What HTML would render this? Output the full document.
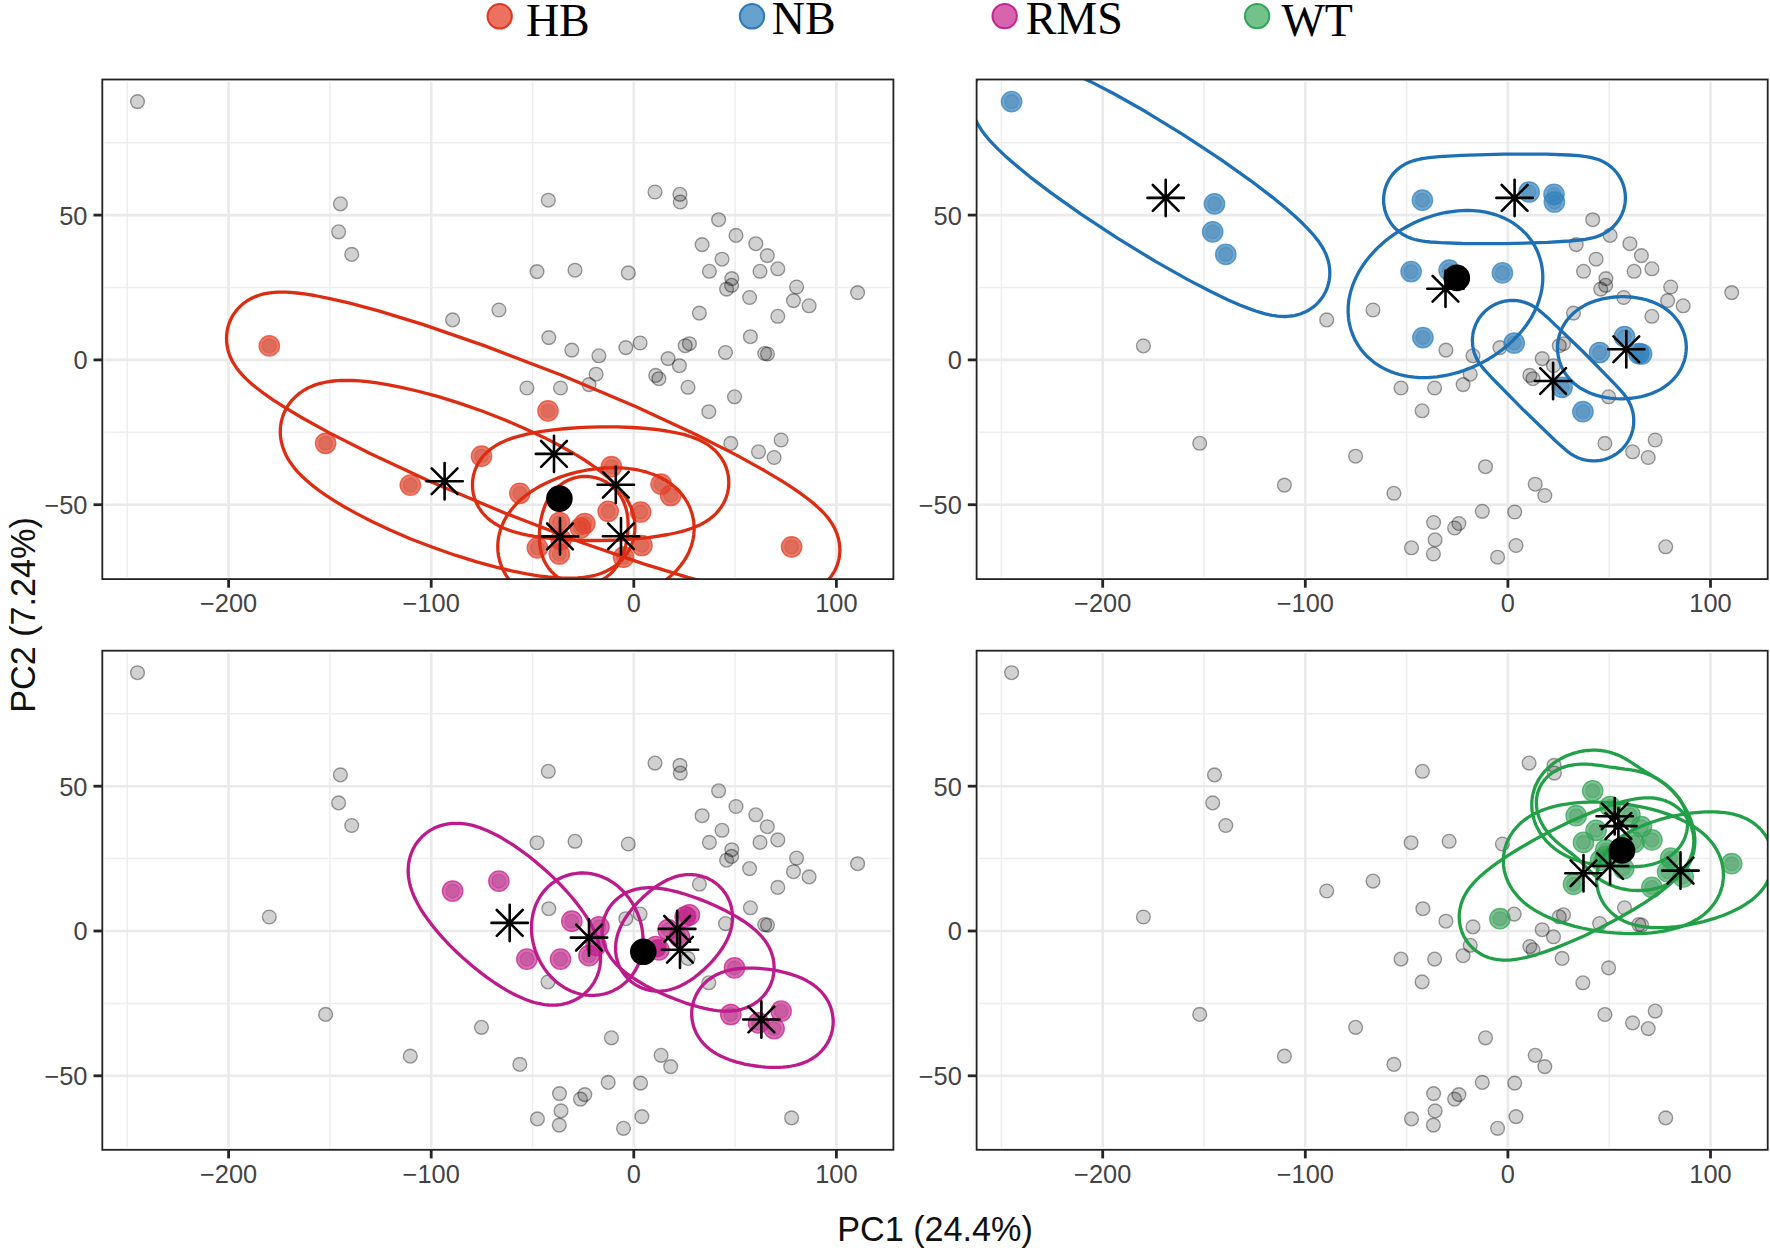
<!DOCTYPE html>
<html lang="en"><head><meta charset="utf-8"><title>PCA</title>
<style>html,body{margin:0;padding:0;background:#fff}body{width:1770px;height:1257px;overflow:hidden}svg{display:block}.tk{font-family:"Liberation Sans",Arial,sans-serif;font-size:25.4px;fill:#434343}.ax{font-family:"Liberation Sans",Arial,sans-serif;font-size:34.2px;fill:#111}.lg{font-family:"Liberation Serif","Times New Roman",serif;font-size:46px;fill:#000}</style></head><body>
<svg width="1770" height="1257" viewBox="0 0 1770 1257">
<rect width="1770" height="1257" fill="#fff"/>
<circle cx="499.7" cy="16.3" r="12.2" fill="#E5402A" fill-opacity="0.74" stroke="#DC2C12" stroke-opacity="0.9" stroke-width="2"/>
<text class="lg" x="525.9" y="35.6">HB</text>
<circle cx="752.0" cy="16.3" r="12.2" fill="#3182BD" fill-opacity="0.74" stroke="#1E70B5" stroke-opacity="0.9" stroke-width="2"/>
<text class="lg" x="771.8" y="33.6">NB</text>
<circle cx="1004.7" cy="16.1" r="12.2" fill="#C51B8A" fill-opacity="0.68" stroke="#BD1A8B" stroke-opacity="0.9" stroke-width="2"/>
<text class="lg" x="1025.7" y="33.5">RMS</text>
<circle cx="1257.1" cy="16.1" r="12.2" fill="#31A354" fill-opacity="0.68" stroke="#22A048" stroke-opacity="0.9" stroke-width="2"/>
<text class="lg" x="1281.4" y="35.6">WT</text>
<g>
<clipPath id="cpHB"><rect x="102.3" y="79.5" width="791.1" height="499.6"/></clipPath>
<line x1="127.3" x2="127.3" y1="81.7" y2="576.9" stroke="#eeeeee" stroke-width="1.5"/>
<line x1="329.9" x2="329.9" y1="81.7" y2="576.9" stroke="#eeeeee" stroke-width="1.5"/>
<line x1="532.5" x2="532.5" y1="81.7" y2="576.9" stroke="#eeeeee" stroke-width="1.5"/>
<line x1="735.1" x2="735.1" y1="81.7" y2="576.9" stroke="#eeeeee" stroke-width="1.5"/>
<line x1="104.5" x2="891.2" y1="142.7" y2="142.7" stroke="#eeeeee" stroke-width="1.5"/>
<line x1="104.5" x2="891.2" y1="287.5" y2="287.5" stroke="#eeeeee" stroke-width="1.5"/>
<line x1="104.5" x2="891.2" y1="432.3" y2="432.3" stroke="#eeeeee" stroke-width="1.5"/>
<line x1="228.6" x2="228.6" y1="81.7" y2="576.9" stroke="#eaeaea" stroke-width="2.6"/>
<line x1="431.2" x2="431.2" y1="81.7" y2="576.9" stroke="#eaeaea" stroke-width="2.6"/>
<line x1="633.8" x2="633.8" y1="81.7" y2="576.9" stroke="#eaeaea" stroke-width="2.6"/>
<line x1="836.4" x2="836.4" y1="81.7" y2="576.9" stroke="#eaeaea" stroke-width="2.6"/>
<line x1="104.5" x2="891.2" y1="215.1" y2="215.1" stroke="#eaeaea" stroke-width="2.6"/>
<line x1="104.5" x2="891.2" y1="359.9" y2="359.9" stroke="#eaeaea" stroke-width="2.6"/>
<line x1="104.5" x2="891.2" y1="504.7" y2="504.7" stroke="#eaeaea" stroke-width="2.6"/>
<g clip-path="url(#cpHB)">
<circle cx="269.3" cy="345.9" r="6.9" fill="#000" fill-opacity="0.18" stroke="#000" stroke-opacity="0.20" stroke-width="1.35"/>
<circle cx="325.6" cy="443.3" r="6.9" fill="#000" fill-opacity="0.18" stroke="#000" stroke-opacity="0.20" stroke-width="1.35"/>
<circle cx="410.3" cy="485.1" r="6.9" fill="#000" fill-opacity="0.18" stroke="#000" stroke-opacity="0.20" stroke-width="1.35"/>
<circle cx="481.5" cy="456.2" r="6.9" fill="#000" fill-opacity="0.18" stroke="#000" stroke-opacity="0.20" stroke-width="1.35"/>
<circle cx="548.0" cy="410.8" r="6.9" fill="#000" fill-opacity="0.18" stroke="#000" stroke-opacity="0.20" stroke-width="1.35"/>
<circle cx="519.8" cy="493.3" r="6.9" fill="#000" fill-opacity="0.18" stroke="#000" stroke-opacity="0.20" stroke-width="1.35"/>
<circle cx="611.4" cy="466.7" r="6.9" fill="#000" fill-opacity="0.18" stroke="#000" stroke-opacity="0.20" stroke-width="1.35"/>
<circle cx="661.1" cy="484.2" r="6.9" fill="#000" fill-opacity="0.18" stroke="#000" stroke-opacity="0.20" stroke-width="1.35"/>
<circle cx="670.7" cy="495.5" r="6.9" fill="#000" fill-opacity="0.18" stroke="#000" stroke-opacity="0.20" stroke-width="1.35"/>
<circle cx="608.2" cy="511.3" r="6.9" fill="#000" fill-opacity="0.18" stroke="#000" stroke-opacity="0.20" stroke-width="1.35"/>
<circle cx="640.6" cy="512.0" r="6.9" fill="#000" fill-opacity="0.18" stroke="#000" stroke-opacity="0.20" stroke-width="1.35"/>
<circle cx="559.5" cy="522.5" r="6.9" fill="#000" fill-opacity="0.18" stroke="#000" stroke-opacity="0.20" stroke-width="1.35"/>
<circle cx="584.8" cy="523.5" r="6.9" fill="#000" fill-opacity="0.18" stroke="#000" stroke-opacity="0.20" stroke-width="1.35"/>
<circle cx="580.5" cy="528.0" r="6.9" fill="#000" fill-opacity="0.18" stroke="#000" stroke-opacity="0.20" stroke-width="1.35"/>
<circle cx="537.4" cy="547.8" r="6.9" fill="#000" fill-opacity="0.18" stroke="#000" stroke-opacity="0.20" stroke-width="1.35"/>
<circle cx="559.3" cy="554.0" r="6.9" fill="#000" fill-opacity="0.18" stroke="#000" stroke-opacity="0.20" stroke-width="1.35"/>
<circle cx="641.9" cy="545.5" r="6.9" fill="#000" fill-opacity="0.18" stroke="#000" stroke-opacity="0.20" stroke-width="1.35"/>
<circle cx="623.5" cy="557.2" r="6.9" fill="#000" fill-opacity="0.18" stroke="#000" stroke-opacity="0.20" stroke-width="1.35"/>
<circle cx="791.6" cy="546.8" r="6.9" fill="#000" fill-opacity="0.18" stroke="#000" stroke-opacity="0.20" stroke-width="1.35"/>
<circle cx="561.0" cy="539.8" r="6.9" fill="#000" fill-opacity="0.18" stroke="#000" stroke-opacity="0.20" stroke-width="1.35"/>
<circle cx="137.5" cy="101.6" r="6.9" fill="#000" fill-opacity="0.18" stroke="#000" stroke-opacity="0.38" stroke-width="1.35"/>
<circle cx="340.4" cy="203.8" r="6.9" fill="#000" fill-opacity="0.18" stroke="#000" stroke-opacity="0.38" stroke-width="1.35"/>
<circle cx="338.6" cy="231.8" r="6.9" fill="#000" fill-opacity="0.18" stroke="#000" stroke-opacity="0.38" stroke-width="1.35"/>
<circle cx="351.7" cy="254.4" r="6.9" fill="#000" fill-opacity="0.18" stroke="#000" stroke-opacity="0.38" stroke-width="1.35"/>
<circle cx="548.3" cy="200.2" r="6.9" fill="#000" fill-opacity="0.18" stroke="#000" stroke-opacity="0.38" stroke-width="1.35"/>
<circle cx="655.0" cy="192.0" r="6.9" fill="#000" fill-opacity="0.18" stroke="#000" stroke-opacity="0.38" stroke-width="1.35"/>
<circle cx="679.9" cy="194.3" r="6.9" fill="#000" fill-opacity="0.18" stroke="#000" stroke-opacity="0.38" stroke-width="1.35"/>
<circle cx="680.3" cy="202.0" r="6.9" fill="#000" fill-opacity="0.18" stroke="#000" stroke-opacity="0.38" stroke-width="1.35"/>
<circle cx="537.0" cy="271.6" r="6.9" fill="#000" fill-opacity="0.18" stroke="#000" stroke-opacity="0.38" stroke-width="1.35"/>
<circle cx="575.0" cy="270.2" r="6.9" fill="#000" fill-opacity="0.18" stroke="#000" stroke-opacity="0.38" stroke-width="1.35"/>
<circle cx="628.3" cy="272.9" r="6.9" fill="#000" fill-opacity="0.18" stroke="#000" stroke-opacity="0.38" stroke-width="1.35"/>
<circle cx="548.8" cy="337.6" r="6.9" fill="#000" fill-opacity="0.18" stroke="#000" stroke-opacity="0.38" stroke-width="1.35"/>
<circle cx="640.1" cy="343.0" r="6.9" fill="#000" fill-opacity="0.18" stroke="#000" stroke-opacity="0.38" stroke-width="1.35"/>
<circle cx="750.4" cy="336.7" r="6.9" fill="#000" fill-opacity="0.18" stroke="#000" stroke-opacity="0.38" stroke-width="1.35"/>
<circle cx="725.5" cy="352.5" r="6.9" fill="#000" fill-opacity="0.18" stroke="#000" stroke-opacity="0.38" stroke-width="1.35"/>
<circle cx="764.7" cy="353.5" r="6.9" fill="#000" fill-opacity="0.18" stroke="#000" stroke-opacity="0.38" stroke-width="1.35"/>
<circle cx="767.5" cy="354.0" r="6.9" fill="#000" fill-opacity="0.18" stroke="#000" stroke-opacity="0.38" stroke-width="1.35"/>
<circle cx="688.0" cy="387.3" r="6.9" fill="#000" fill-opacity="0.18" stroke="#000" stroke-opacity="0.38" stroke-width="1.35"/>
<circle cx="708.8" cy="411.7" r="6.9" fill="#000" fill-opacity="0.18" stroke="#000" stroke-opacity="0.38" stroke-width="1.35"/>
<circle cx="452.6" cy="319.9" r="6.9" fill="#000" fill-opacity="0.18" stroke="#000" stroke-opacity="0.38" stroke-width="1.35"/>
<circle cx="498.9" cy="310.0" r="6.9" fill="#000" fill-opacity="0.18" stroke="#000" stroke-opacity="0.38" stroke-width="1.35"/>
<circle cx="526.9" cy="388.0" r="6.9" fill="#000" fill-opacity="0.18" stroke="#000" stroke-opacity="0.38" stroke-width="1.35"/>
<circle cx="560.5" cy="388.0" r="6.9" fill="#000" fill-opacity="0.18" stroke="#000" stroke-opacity="0.38" stroke-width="1.35"/>
<circle cx="571.8" cy="350.1" r="6.9" fill="#000" fill-opacity="0.18" stroke="#000" stroke-opacity="0.38" stroke-width="1.35"/>
<circle cx="598.9" cy="355.8" r="6.9" fill="#000" fill-opacity="0.18" stroke="#000" stroke-opacity="0.38" stroke-width="1.35"/>
<circle cx="589.0" cy="384.6" r="6.9" fill="#000" fill-opacity="0.18" stroke="#000" stroke-opacity="0.38" stroke-width="1.35"/>
<circle cx="596.1" cy="374.2" r="6.9" fill="#000" fill-opacity="0.18" stroke="#000" stroke-opacity="0.38" stroke-width="1.35"/>
<circle cx="689.4" cy="343.7" r="6.9" fill="#000" fill-opacity="0.18" stroke="#000" stroke-opacity="0.38" stroke-width="1.35"/>
<circle cx="685.2" cy="345.7" r="6.9" fill="#000" fill-opacity="0.18" stroke="#000" stroke-opacity="0.38" stroke-width="1.35"/>
<circle cx="668.1" cy="358.6" r="6.9" fill="#000" fill-opacity="0.18" stroke="#000" stroke-opacity="0.38" stroke-width="1.35"/>
<circle cx="679.4" cy="365.7" r="6.9" fill="#000" fill-opacity="0.18" stroke="#000" stroke-opacity="0.38" stroke-width="1.35"/>
<circle cx="658.9" cy="378.7" r="6.9" fill="#000" fill-opacity="0.18" stroke="#000" stroke-opacity="0.38" stroke-width="1.35"/>
<circle cx="655.7" cy="375.4" r="6.9" fill="#000" fill-opacity="0.18" stroke="#000" stroke-opacity="0.38" stroke-width="1.35"/>
<circle cx="734.5" cy="396.8" r="6.9" fill="#000" fill-opacity="0.18" stroke="#000" stroke-opacity="0.38" stroke-width="1.35"/>
<circle cx="730.8" cy="443.4" r="6.9" fill="#000" fill-opacity="0.18" stroke="#000" stroke-opacity="0.38" stroke-width="1.35"/>
<circle cx="781.1" cy="440.0" r="6.9" fill="#000" fill-opacity="0.18" stroke="#000" stroke-opacity="0.38" stroke-width="1.35"/>
<circle cx="774.1" cy="457.5" r="6.9" fill="#000" fill-opacity="0.18" stroke="#000" stroke-opacity="0.38" stroke-width="1.35"/>
<circle cx="758.5" cy="451.8" r="6.9" fill="#000" fill-opacity="0.18" stroke="#000" stroke-opacity="0.38" stroke-width="1.35"/>
<circle cx="718.6" cy="219.7" r="6.9" fill="#000" fill-opacity="0.18" stroke="#000" stroke-opacity="0.38" stroke-width="1.35"/>
<circle cx="736.0" cy="235.4" r="6.9" fill="#000" fill-opacity="0.18" stroke="#000" stroke-opacity="0.38" stroke-width="1.35"/>
<circle cx="702.1" cy="244.6" r="6.9" fill="#000" fill-opacity="0.18" stroke="#000" stroke-opacity="0.38" stroke-width="1.35"/>
<circle cx="755.8" cy="243.7" r="6.9" fill="#000" fill-opacity="0.18" stroke="#000" stroke-opacity="0.38" stroke-width="1.35"/>
<circle cx="722.0" cy="259.2" r="6.9" fill="#000" fill-opacity="0.18" stroke="#000" stroke-opacity="0.38" stroke-width="1.35"/>
<circle cx="767.3" cy="255.6" r="6.9" fill="#000" fill-opacity="0.18" stroke="#000" stroke-opacity="0.38" stroke-width="1.35"/>
<circle cx="709.4" cy="271.3" r="6.9" fill="#000" fill-opacity="0.18" stroke="#000" stroke-opacity="0.38" stroke-width="1.35"/>
<circle cx="777.8" cy="268.8" r="6.9" fill="#000" fill-opacity="0.18" stroke="#000" stroke-opacity="0.38" stroke-width="1.35"/>
<circle cx="760.0" cy="271.3" r="6.9" fill="#000" fill-opacity="0.18" stroke="#000" stroke-opacity="0.38" stroke-width="1.35"/>
<circle cx="731.8" cy="278.6" r="6.9" fill="#000" fill-opacity="0.18" stroke="#000" stroke-opacity="0.38" stroke-width="1.35"/>
<circle cx="731.6" cy="285.3" r="6.9" fill="#000" fill-opacity="0.18" stroke="#000" stroke-opacity="0.38" stroke-width="1.35"/>
<circle cx="726.6" cy="289.1" r="6.9" fill="#000" fill-opacity="0.18" stroke="#000" stroke-opacity="0.38" stroke-width="1.35"/>
<circle cx="796.6" cy="287.0" r="6.9" fill="#000" fill-opacity="0.18" stroke="#000" stroke-opacity="0.38" stroke-width="1.35"/>
<circle cx="749.6" cy="297.5" r="6.9" fill="#000" fill-opacity="0.18" stroke="#000" stroke-opacity="0.38" stroke-width="1.35"/>
<circle cx="793.5" cy="300.6" r="6.9" fill="#000" fill-opacity="0.18" stroke="#000" stroke-opacity="0.38" stroke-width="1.35"/>
<circle cx="809.1" cy="305.8" r="6.9" fill="#000" fill-opacity="0.18" stroke="#000" stroke-opacity="0.38" stroke-width="1.35"/>
<circle cx="857.6" cy="292.6" r="6.9" fill="#000" fill-opacity="0.18" stroke="#000" stroke-opacity="0.38" stroke-width="1.35"/>
<circle cx="699.4" cy="313.1" r="6.9" fill="#000" fill-opacity="0.18" stroke="#000" stroke-opacity="0.38" stroke-width="1.35"/>
<circle cx="777.8" cy="316.3" r="6.9" fill="#000" fill-opacity="0.18" stroke="#000" stroke-opacity="0.38" stroke-width="1.35"/>
<circle cx="625.8" cy="347.6" r="6.9" fill="#000" fill-opacity="0.18" stroke="#000" stroke-opacity="0.38" stroke-width="1.35"/>
<circle cx="269.3" cy="345.9" r="10.2" fill="#E5402A" fill-opacity="0.70" stroke="#E5402A" stroke-opacity="0.75" stroke-width="1.3"/>
<circle cx="325.6" cy="443.3" r="10.2" fill="#E5402A" fill-opacity="0.70" stroke="#E5402A" stroke-opacity="0.75" stroke-width="1.3"/>
<circle cx="410.3" cy="485.1" r="10.2" fill="#E5402A" fill-opacity="0.70" stroke="#E5402A" stroke-opacity="0.75" stroke-width="1.3"/>
<circle cx="481.5" cy="456.2" r="10.2" fill="#E5402A" fill-opacity="0.70" stroke="#E5402A" stroke-opacity="0.75" stroke-width="1.3"/>
<circle cx="548.0" cy="410.8" r="10.2" fill="#E5402A" fill-opacity="0.70" stroke="#E5402A" stroke-opacity="0.75" stroke-width="1.3"/>
<circle cx="519.8" cy="493.3" r="10.2" fill="#E5402A" fill-opacity="0.70" stroke="#E5402A" stroke-opacity="0.75" stroke-width="1.3"/>
<circle cx="611.4" cy="466.7" r="10.2" fill="#E5402A" fill-opacity="0.70" stroke="#E5402A" stroke-opacity="0.75" stroke-width="1.3"/>
<circle cx="661.1" cy="484.2" r="10.2" fill="#E5402A" fill-opacity="0.70" stroke="#E5402A" stroke-opacity="0.75" stroke-width="1.3"/>
<circle cx="670.7" cy="495.5" r="10.2" fill="#E5402A" fill-opacity="0.70" stroke="#E5402A" stroke-opacity="0.75" stroke-width="1.3"/>
<circle cx="608.2" cy="511.3" r="10.2" fill="#E5402A" fill-opacity="0.70" stroke="#E5402A" stroke-opacity="0.75" stroke-width="1.3"/>
<circle cx="640.6" cy="512.0" r="10.2" fill="#E5402A" fill-opacity="0.70" stroke="#E5402A" stroke-opacity="0.75" stroke-width="1.3"/>
<circle cx="559.5" cy="522.5" r="10.2" fill="#E5402A" fill-opacity="0.70" stroke="#E5402A" stroke-opacity="0.75" stroke-width="1.3"/>
<circle cx="584.8" cy="523.5" r="10.2" fill="#E5402A" fill-opacity="0.70" stroke="#E5402A" stroke-opacity="0.75" stroke-width="1.3"/>
<circle cx="580.5" cy="528.0" r="10.2" fill="#E5402A" fill-opacity="0.70" stroke="#E5402A" stroke-opacity="0.75" stroke-width="1.3"/>
<circle cx="537.4" cy="547.8" r="10.2" fill="#E5402A" fill-opacity="0.70" stroke="#E5402A" stroke-opacity="0.75" stroke-width="1.3"/>
<circle cx="559.3" cy="554.0" r="10.2" fill="#E5402A" fill-opacity="0.70" stroke="#E5402A" stroke-opacity="0.75" stroke-width="1.3"/>
<circle cx="641.9" cy="545.5" r="10.2" fill="#E5402A" fill-opacity="0.70" stroke="#E5402A" stroke-opacity="0.75" stroke-width="1.3"/>
<circle cx="623.5" cy="557.2" r="10.2" fill="#E5402A" fill-opacity="0.70" stroke="#E5402A" stroke-opacity="0.75" stroke-width="1.3"/>
<circle cx="791.6" cy="546.8" r="10.2" fill="#E5402A" fill-opacity="0.70" stroke="#E5402A" stroke-opacity="0.75" stroke-width="1.3"/>
<circle cx="561.0" cy="539.8" r="10.2" fill="#E5402A" fill-opacity="0.70" stroke="#E5402A" stroke-opacity="0.75" stroke-width="1.3"/>
<path d="M836.6 566.5 L836.0 567.9 L835.4 569.3 L834.7 570.7 L833.9 572.1 L833.1 573.4 L832.3 574.7 L831.4 576.0 L830.5 577.2 L829.5 578.4 L828.5 579.6 L827.4 580.8 L826.3 581.9 L825.1 583.0 L823.9 584.0 L822.7 585.0 L821.4 586.0 L820.0 586.9 L818.6 587.8 L817.2 588.7 L815.7 589.5 L814.2 590.3 L812.6 591.1 L810.9 591.8 L809.2 592.4 L807.4 593.0 L805.5 593.6 L803.6 594.1 L801.5 594.6 L799.3 595.1 L796.9 595.4 L794.3 595.8 L791.5 596.0 L788.4 596.2 L784.8 596.2 L780.7 596.2 L775.8 595.9 L769.7 595.4 L762.0 594.4 L751.8 592.8 L737.7 590.1 L717.6 585.4 L687.8 577.4 L643.6 563.9 L581.4 542.5 L505.3 513.3 L430.2 481.5 L370.6 453.8 L329.4 432.9 L302.4 418.0 L284.7 407.4 L272.6 399.6 L264.2 393.7 L258.0 389.0 L253.2 385.2 L249.5 382.0 L246.4 379.1 L243.9 376.6 L241.8 374.3 L239.9 372.2 L238.3 370.2 L236.8 368.3 L235.6 366.4 L234.4 364.6 L233.3 362.9 L232.4 361.2 L231.5 359.5 L230.8 357.8 L230.0 356.2 L229.4 354.5 L228.9 352.9 L228.4 351.3 L227.9 349.7 L227.5 348.0 L227.2 346.4 L227.0 344.8 L226.8 343.2 L226.6 341.6 L226.6 340.1 L226.5 338.5 L226.6 336.9 L226.6 335.3 L226.8 333.8 L227.0 332.2 L227.2 330.7 L227.5 329.2 L227.8 327.7 L228.2 326.2 L228.7 324.7 L229.2 323.2 L229.7 321.8 L230.3 320.4 L231.0 319.0 L231.7 317.6 L232.4 316.3 L233.2 314.9 L234.1 313.6 L235.0 312.4 L235.9 311.1 L236.9 309.9 L237.9 308.7 L239.0 307.6 L240.1 306.5 L241.3 305.4 L242.5 304.3 L243.7 303.3 L245.0 302.3 L246.4 301.4 L247.7 300.5 L249.2 299.6 L250.7 298.8 L252.2 298.0 L253.8 297.3 L255.5 296.6 L257.2 295.9 L259.0 295.3 L260.8 294.7 L262.8 294.2 L264.9 293.7 L267.1 293.3 L269.5 292.9 L272.0 292.6 L274.8 292.3 L278.0 292.2 L281.5 292.1 L285.7 292.2 L290.6 292.4 L296.7 293.0 L304.4 293.9 L314.6 295.5 L328.7 298.3 L348.8 302.9 L378.6 310.9 L422.7 324.4 L484.9 345.9 L561.1 375.0 L636.1 406.8 L695.8 434.5 L737.0 455.4 L764.0 470.3 L781.7 480.9 L793.7 488.7 L802.2 494.6 L808.4 499.3 L813.2 503.1 L816.9 506.4 L819.9 509.2 L822.5 511.7 L824.6 514.0 L826.5 516.1 L828.1 518.1 L829.5 520.0 L830.8 521.9 L832.0 523.7 L833.0 525.4 L834.0 527.1 L834.8 528.8 L835.6 530.5 L836.3 532.1 L837.0 533.8 L837.5 535.4 L838.0 537.0 L838.5 538.7 L838.8 540.3 L839.1 541.9 L839.4 543.5 L839.6 545.1 L839.7 546.7 L839.8 548.3 L839.9 549.9 L839.8 551.4 L839.7 553.0 L839.6 554.5 L839.4 556.1 L839.2 557.6 L838.9 559.1 L838.5 560.7 L838.1 562.1 L837.7 563.6 L837.2 565.1Z" fill="none" stroke="#DC2C12" stroke-width="3.3" stroke-linejoin="round"/>
<path d="M632.0 543.6 L631.4 545.1 L630.8 546.6 L630.1 548.1 L629.3 549.6 L628.5 551.0 L627.6 552.5 L626.7 553.8 L625.8 555.2 L624.7 556.6 L623.7 557.9 L622.5 559.1 L621.4 560.4 L620.1 561.6 L618.9 562.8 L617.5 564.0 L616.1 565.1 L614.7 566.2 L613.2 567.2 L611.6 568.2 L610.0 569.2 L608.2 570.1 L606.5 571.0 L604.6 571.9 L602.6 572.7 L600.6 573.5 L598.4 574.3 L596.1 575.0 L593.6 575.6 L590.9 576.2 L588.1 576.7 L584.9 577.2 L581.5 577.6 L577.6 578.0 L573.3 578.2 L568.4 578.2 L562.6 578.1 L555.9 577.7 L547.9 577.0 L538.3 575.8 L526.7 573.9 L512.7 571.1 L496.1 567.2 L476.7 561.9 L455.2 555.2 L432.6 547.3 L410.2 538.7 L389.5 529.8 L371.4 521.3 L356.2 513.4 L343.7 506.5 L333.7 500.4 L325.6 495.1 L319.0 490.5 L313.6 486.4 L309.2 482.8 L305.5 479.5 L302.3 476.5 L299.6 473.8 L297.2 471.3 L295.1 468.9 L293.3 466.6 L291.7 464.4 L290.2 462.3 L288.9 460.3 L287.7 458.3 L286.7 456.4 L285.7 454.5 L284.9 452.6 L284.1 450.7 L283.4 448.9 L282.8 447.1 L282.2 445.3 L281.8 443.5 L281.4 441.8 L281.0 440.0 L280.8 438.3 L280.5 436.5 L280.4 434.8 L280.3 433.1 L280.3 431.4 L280.3 429.7 L280.4 428.0 L280.6 426.4 L280.8 424.7 L281.1 423.1 L281.4 421.4 L281.8 419.8 L282.2 418.2 L282.7 416.7 L283.2 415.1 L283.8 413.6 L284.5 412.0 L285.2 410.5 L285.9 409.1 L286.7 407.6 L287.6 406.2 L288.5 404.8 L289.5 403.4 L290.5 402.1 L291.6 400.8 L292.7 399.5 L293.9 398.3 L295.1 397.0 L296.4 395.9 L297.7 394.7 L299.1 393.6 L300.6 392.5 L302.1 391.5 L303.6 390.4 L305.3 389.5 L307.0 388.5 L308.8 387.6 L310.7 386.8 L312.6 385.9 L314.7 385.1 L316.9 384.4 L319.2 383.7 L321.7 383.1 L324.3 382.5 L327.2 381.9 L330.3 381.4 L333.8 381.0 L337.6 380.7 L341.9 380.5 L346.9 380.4 L352.6 380.5 L359.4 380.9 L367.4 381.7 L377.0 382.9 L388.6 384.8 L402.5 387.6 L419.2 391.5 L438.5 396.7 L460.0 403.4 L482.7 411.3 L505.0 420.0 L525.7 428.9 L543.9 437.4 L559.1 445.2 L571.5 452.2 L581.6 458.2 L589.7 463.5 L596.2 468.2 L601.6 472.3 L606.1 475.9 L609.8 479.1 L612.9 482.1 L615.7 484.9 L618.0 487.4 L620.1 489.8 L621.9 492.1 L623.6 494.3 L625.0 496.4 L626.3 498.4 L627.5 500.4 L628.6 502.3 L629.5 504.2 L630.4 506.1 L631.2 507.9 L631.9 509.7 L632.5 511.6 L633.0 513.3 L633.5 515.1 L633.9 516.9 L634.2 518.6 L634.5 520.4 L634.7 522.1 L634.8 523.8 L634.9 525.6 L634.9 527.3 L634.9 529.0 L634.8 530.6 L634.7 532.3 L634.4 534.0 L634.2 535.6 L633.9 537.2 L633.5 538.8 L633.0 540.4 L632.6 542.0Z" fill="none" stroke="#DC2C12" stroke-width="3.3" stroke-linejoin="round"/>
<path d="M728.8 481.9 L728.8 483.4 L728.7 484.9 L728.6 486.4 L728.5 487.9 L728.2 489.4 L728.0 490.9 L727.7 492.4 L727.3 493.8 L726.9 495.3 L726.4 496.7 L725.9 498.2 L725.3 499.6 L724.6 501.0 L724.0 502.4 L723.2 503.8 L722.4 505.1 L721.6 506.5 L720.7 507.8 L719.7 509.1 L718.7 510.4 L717.7 511.6 L716.6 512.9 L715.4 514.1 L714.1 515.3 L712.8 516.5 L711.4 517.6 L709.9 518.8 L708.4 519.9 L706.7 521.0 L704.9 522.1 L703.0 523.2 L700.9 524.4 L698.5 525.5 L696.0 526.6 L693.0 527.8 L689.7 529.0 L685.7 530.3 L681.0 531.6 L675.3 533.0 L668.1 534.5 L659.2 536.0 L648.1 537.6 L634.5 538.9 L618.7 540.0 L601.4 540.5 L584.2 540.5 L568.3 539.9 L554.7 538.9 L543.6 537.7 L534.6 536.4 L527.4 535.1 L521.7 533.9 L516.9 532.7 L512.9 531.5 L509.5 530.4 L506.6 529.3 L503.9 528.3 L501.6 527.2 L499.5 526.2 L497.5 525.1 L495.7 524.0 L494.0 523.0 L492.4 521.9 L490.9 520.8 L489.4 519.7 L488.1 518.5 L486.8 517.4 L485.6 516.2 L484.4 515.0 L483.3 513.7 L482.3 512.5 L481.3 511.2 L480.4 509.9 L479.5 508.6 L478.7 507.3 L477.9 505.9 L477.2 504.6 L476.5 503.2 L475.9 501.8 L475.3 500.3 L474.8 498.9 L474.3 497.4 L473.9 496.0 L473.5 494.5 L473.2 493.0 L473.0 491.5 L472.8 490.0 L472.6 488.5 L472.5 487.0 L472.5 485.5 L472.5 484.0 L472.5 482.5 L472.6 481.0 L472.8 479.5 L473.0 478.0 L473.3 476.5 L473.6 475.0 L474.0 473.6 L474.4 472.1 L474.9 470.6 L475.4 469.2 L476.0 467.8 L476.6 466.4 L477.3 465.0 L478.0 463.6 L478.8 462.2 L479.7 460.9 L480.6 459.6 L481.5 458.3 L482.5 457.0 L483.6 455.7 L484.7 454.5 L485.9 453.3 L487.1 452.1 L488.5 450.9 L489.8 449.8 L491.3 448.6 L492.9 447.5 L494.6 446.4 L496.4 445.2 L498.3 444.1 L500.4 443.0 L502.7 441.9 L505.3 440.8 L508.2 439.6 L511.6 438.4 L515.5 437.1 L520.3 435.8 L526.0 434.4 L533.1 432.9 L542.0 431.3 L553.2 429.8 L566.7 428.5 L582.6 427.4 L599.8 426.9 L617.1 426.9 L632.9 427.5 L646.5 428.5 L657.7 429.7 L666.6 431.0 L673.8 432.3 L679.6 433.5 L684.4 434.7 L688.3 435.9 L691.7 437.0 L694.7 438.1 L697.3 439.1 L699.7 440.2 L701.8 441.2 L703.8 442.3 L705.6 443.3 L707.3 444.4 L708.9 445.5 L710.4 446.6 L711.8 447.7 L713.2 448.9 L714.5 450.0 L715.7 451.2 L716.8 452.4 L717.9 453.6 L719.0 454.9 L720.0 456.2 L720.9 457.4 L721.8 458.8 L722.6 460.1 L723.4 461.5 L724.1 462.8 L724.8 464.2 L725.4 465.6 L726.0 467.0 L726.5 468.5 L726.9 469.9 L727.4 471.4 L727.7 472.9 L728.0 474.4 L728.3 475.8 L728.5 477.3 L728.6 478.8 L728.7 480.3Z" fill="none" stroke="#DC2C12" stroke-width="3.3" stroke-linejoin="round"/>
<path d="M693.0 517.9 L693.4 519.7 L693.7 521.6 L693.9 523.4 L694.0 525.3 L694.1 527.2 L694.1 529.0 L694.1 530.9 L693.9 532.8 L693.8 534.7 L693.5 536.6 L693.2 538.5 L692.8 540.5 L692.3 542.4 L691.8 544.3 L691.2 546.2 L690.5 548.2 L689.7 550.1 L688.9 552.1 L688.0 554.0 L687.0 556.0 L685.8 557.9 L684.6 559.9 L683.3 561.9 L681.9 563.8 L680.4 565.8 L678.7 567.8 L677.0 569.9 L675.0 571.9 L673.0 573.9 L670.7 576.0 L668.3 578.0 L665.7 580.1 L662.9 582.2 L659.8 584.3 L656.5 586.4 L653.0 588.5 L649.1 590.6 L645.0 592.6 L640.7 594.6 L636.0 596.5 L631.1 598.4 L626.0 600.1 L620.6 601.7 L615.1 603.1 L609.5 604.4 L603.9 605.4 L598.3 606.2 L592.7 606.9 L587.3 607.3 L582.1 607.5 L577.1 607.6 L572.3 607.4 L567.7 607.2 L563.4 606.8 L559.3 606.2 L555.4 605.6 L551.8 604.8 L548.4 604.0 L545.2 603.1 L542.1 602.2 L539.2 601.2 L536.5 600.1 L534.0 599.0 L531.5 597.8 L529.2 596.6 L527.1 595.4 L525.0 594.1 L523.0 592.8 L521.1 591.5 L519.3 590.1 L517.6 588.7 L516.0 587.3 L514.5 585.8 L513.0 584.3 L511.6 582.8 L510.3 581.3 L509.1 579.7 L507.9 578.1 L506.8 576.5 L505.8 574.9 L504.8 573.2 L503.9 571.5 L503.0 569.8 L502.2 568.1 L501.5 566.4 L500.9 564.6 L500.3 562.8 L499.7 561.1 L499.3 559.2 L498.9 557.4 L498.5 555.6 L498.2 553.8 L498.0 551.9 L497.9 550.0 L497.8 548.2 L497.8 546.3 L497.8 544.4 L498.0 542.5 L498.1 540.6 L498.4 538.7 L498.7 536.8 L499.1 534.9 L499.6 532.9 L500.1 531.0 L500.7 529.1 L501.4 527.1 L502.2 525.2 L503.0 523.3 L503.9 521.3 L504.9 519.4 L506.1 517.4 L507.3 515.4 L508.6 513.5 L510.0 511.5 L511.5 509.5 L513.2 507.5 L514.9 505.5 L516.9 503.4 L518.9 501.4 L521.2 499.3 L523.6 497.3 L526.2 495.2 L529.0 493.1 L532.1 491.0 L535.4 488.9 L538.9 486.8 L542.8 484.7 L546.9 482.7 L551.2 480.7 L555.9 478.8 L560.8 476.9 L565.9 475.2 L571.3 473.6 L576.8 472.2 L582.4 471.0 L588.0 469.9 L593.6 469.1 L599.2 468.5 L604.6 468.0 L609.8 467.8 L614.8 467.7 L619.6 467.9 L624.2 468.2 L628.5 468.6 L632.6 469.1 L636.5 469.7 L640.1 470.5 L643.5 471.3 L646.7 472.2 L649.8 473.2 L652.7 474.2 L655.4 475.2 L657.9 476.3 L660.4 477.5 L662.7 478.7 L664.8 479.9 L666.9 481.2 L668.9 482.5 L670.8 483.9 L672.6 485.2 L674.3 486.6 L675.9 488.1 L677.4 489.5 L678.9 491.0 L680.3 492.5 L681.6 494.0 L682.8 495.6 L684.0 497.2 L685.1 498.8 L686.1 500.5 L687.1 502.1 L688.0 503.8 L688.9 505.5 L689.7 507.2 L690.4 509.0 L691.0 510.7 L691.6 512.5 L692.2 514.3 L692.6 516.1Z" fill="none" stroke="#DC2C12" stroke-width="3.3" stroke-linejoin="round"/>
<path d="M576.7 584.7 L575.3 584.5 L573.9 584.2 L572.5 583.9 L571.1 583.6 L569.7 583.2 L568.3 582.7 L567.0 582.2 L565.6 581.6 L564.3 581.1 L563.0 580.4 L561.8 579.7 L560.5 579.0 L559.3 578.2 L558.1 577.4 L556.9 576.5 L555.8 575.6 L554.7 574.7 L553.6 573.7 L552.6 572.7 L551.5 571.6 L550.6 570.5 L549.6 569.4 L548.7 568.2 L547.8 566.9 L547.0 565.7 L546.2 564.4 L545.4 563.0 L544.7 561.7 L544.0 560.2 L543.4 558.8 L542.8 557.2 L542.2 555.6 L541.7 554.0 L541.2 552.3 L540.8 550.5 L540.4 548.6 L540.1 546.6 L539.8 544.5 L539.6 542.2 L539.4 539.8 L539.3 537.1 L539.4 534.3 L539.5 531.3 L539.7 528.2 L540.1 525.1 L540.5 521.9 L541.1 518.8 L541.8 515.9 L542.5 513.2 L543.2 510.7 L544.0 508.4 L544.8 506.2 L545.6 504.2 L546.4 502.4 L547.3 500.7 L548.2 499.0 L549.1 497.5 L550.0 496.1 L550.9 494.7 L551.9 493.4 L552.9 492.1 L553.9 490.9 L555.0 489.7 L556.1 488.6 L557.2 487.6 L558.3 486.6 L559.5 485.6 L560.6 484.7 L561.8 483.8 L563.1 483.0 L564.3 482.2 L565.6 481.5 L566.9 480.8 L568.2 480.2 L569.6 479.6 L570.9 479.1 L572.3 478.6 L573.7 478.2 L575.0 477.8 L576.4 477.5 L577.9 477.2 L579.3 476.9 L580.7 476.7 L582.1 476.6 L583.6 476.5 L585.0 476.5 L586.4 476.5 L587.9 476.5 L589.3 476.6 L590.7 476.8 L592.2 477.0 L593.6 477.3 L595.0 477.6 L596.4 477.9 L597.7 478.3 L599.1 478.8 L600.4 479.3 L601.8 479.9 L603.1 480.4 L604.4 481.1 L605.6 481.8 L606.9 482.5 L608.1 483.3 L609.3 484.1 L610.5 485.0 L611.6 485.9 L612.7 486.8 L613.8 487.8 L614.9 488.8 L615.9 489.9 L616.9 491.0 L617.8 492.1 L618.7 493.3 L619.6 494.6 L620.4 495.8 L621.2 497.1 L622.0 498.5 L622.7 499.8 L623.4 501.3 L624.0 502.7 L624.6 504.3 L625.2 505.9 L625.7 507.5 L626.2 509.2 L626.6 511.0 L627.0 512.9 L627.4 514.9 L627.6 517.0 L627.9 519.3 L628.0 521.7 L628.1 524.4 L628.1 527.2 L627.9 530.2 L627.7 533.3 L627.3 536.4 L626.9 539.6 L626.3 542.7 L625.7 545.6 L625.0 548.3 L624.2 550.8 L623.5 553.1 L622.7 555.3 L621.8 557.3 L621.0 559.1 L620.1 560.8 L619.3 562.5 L618.4 564.0 L617.4 565.4 L616.5 566.8 L615.5 568.1 L614.5 569.4 L613.5 570.6 L612.4 571.8 L611.4 572.9 L610.3 573.9 L609.1 574.9 L608.0 575.9 L606.8 576.8 L605.6 577.7 L604.3 578.5 L603.1 579.3 L601.8 580.0 L600.5 580.7 L599.2 581.3 L597.9 581.9 L596.5 582.4 L595.1 582.9 L593.8 583.3 L592.4 583.7 L591.0 584.0 L589.6 584.3 L588.1 584.6 L586.7 584.8 L585.3 584.9 L583.8 585.0 L582.4 585.0 L581.0 585.0 L579.5 585.0 L578.1 584.9Z" fill="none" stroke="#DC2C12" stroke-width="3.3" stroke-linejoin="round"/>
<path d="M426.4 481.2H462.8M444.6 463.0V499.4M431.7 468.3L457.5 494.1M431.7 494.1L457.5 468.3" stroke="#000" stroke-width="2.6" stroke-linecap="round" fill="none"/>
<path d="M535.8 453.9H572.2M554.0 435.7V472.1M541.1 441.0L566.9 466.8M541.1 466.8L566.9 441.0" stroke="#000" stroke-width="2.6" stroke-linecap="round" fill="none"/>
<path d="M597.6 484.7H634.0M615.8 466.5V502.9M602.9 471.8L628.7 497.6M602.9 497.6L628.7 471.8" stroke="#000" stroke-width="2.6" stroke-linecap="round" fill="none"/>
<path d="M541.8 536.4H578.2M560.0 518.2V554.6M547.1 523.5L572.9 549.3M547.1 549.3L572.9 523.5" stroke="#000" stroke-width="2.6" stroke-linecap="round" fill="none"/>
<path d="M602.8 536.3H639.2M621.0 518.1V554.5M608.1 523.4L633.9 549.2M608.1 549.2L633.9 523.4" stroke="#000" stroke-width="2.6" stroke-linecap="round" fill="none"/>
<circle cx="559.4" cy="498.6" r="13.3" fill="#000"/>
</g>
<rect x="102.3" y="79.5" width="791.1" height="499.6" fill="none" stroke="#222" stroke-width="1.8"/>
<line x1="228.6" x2="228.6" y1="579.1" y2="587.7" stroke="#262626" stroke-width="2.8"/>
<text class="tk" text-anchor="middle" x="228.6" y="612.2">−200</text>
<line x1="431.2" x2="431.2" y1="579.1" y2="587.7" stroke="#262626" stroke-width="2.8"/>
<text class="tk" text-anchor="middle" x="431.2" y="612.2">−100</text>
<line x1="633.8" x2="633.8" y1="579.1" y2="587.7" stroke="#262626" stroke-width="2.8"/>
<text class="tk" text-anchor="middle" x="633.8" y="612.2">0</text>
<line x1="836.4" x2="836.4" y1="579.1" y2="587.7" stroke="#262626" stroke-width="2.8"/>
<text class="tk" text-anchor="middle" x="836.4" y="612.2">100</text>
<line x1="93.5" x2="102.3" y1="215.1" y2="215.1" stroke="#262626" stroke-width="2.8"/>
<text class="tk" text-anchor="end" x="87.5" y="224.5">50</text>
<line x1="93.5" x2="102.3" y1="359.9" y2="359.9" stroke="#262626" stroke-width="2.8"/>
<text class="tk" text-anchor="end" x="87.5" y="369.3">0</text>
<line x1="93.5" x2="102.3" y1="504.7" y2="504.7" stroke="#262626" stroke-width="2.8"/>
<text class="tk" text-anchor="end" x="87.5" y="514.1">−50</text>
</g>
<g>
<clipPath id="cpNB"><rect x="976.6" y="79.5" width="791.1" height="499.6"/></clipPath>
<line x1="1001.4" x2="1001.4" y1="81.7" y2="576.9" stroke="#eeeeee" stroke-width="1.5"/>
<line x1="1204.0" x2="1204.0" y1="81.7" y2="576.9" stroke="#eeeeee" stroke-width="1.5"/>
<line x1="1406.6" x2="1406.6" y1="81.7" y2="576.9" stroke="#eeeeee" stroke-width="1.5"/>
<line x1="1609.2" x2="1609.2" y1="81.7" y2="576.9" stroke="#eeeeee" stroke-width="1.5"/>
<line x1="978.8" x2="1765.5" y1="142.7" y2="142.7" stroke="#eeeeee" stroke-width="1.5"/>
<line x1="978.8" x2="1765.5" y1="287.5" y2="287.5" stroke="#eeeeee" stroke-width="1.5"/>
<line x1="978.8" x2="1765.5" y1="432.3" y2="432.3" stroke="#eeeeee" stroke-width="1.5"/>
<line x1="1102.7" x2="1102.7" y1="81.7" y2="576.9" stroke="#eaeaea" stroke-width="2.6"/>
<line x1="1305.3" x2="1305.3" y1="81.7" y2="576.9" stroke="#eaeaea" stroke-width="2.6"/>
<line x1="1507.9" x2="1507.9" y1="81.7" y2="576.9" stroke="#eaeaea" stroke-width="2.6"/>
<line x1="1710.5" x2="1710.5" y1="81.7" y2="576.9" stroke="#eaeaea" stroke-width="2.6"/>
<line x1="978.8" x2="1765.5" y1="215.1" y2="215.1" stroke="#eaeaea" stroke-width="2.6"/>
<line x1="978.8" x2="1765.5" y1="359.9" y2="359.9" stroke="#eaeaea" stroke-width="2.6"/>
<line x1="978.8" x2="1765.5" y1="504.7" y2="504.7" stroke="#eaeaea" stroke-width="2.6"/>
<g clip-path="url(#cpNB)">
<circle cx="1143.4" cy="345.9" r="6.9" fill="#000" fill-opacity="0.18" stroke="#000" stroke-opacity="0.38" stroke-width="1.35"/>
<circle cx="1199.7" cy="443.3" r="6.9" fill="#000" fill-opacity="0.18" stroke="#000" stroke-opacity="0.38" stroke-width="1.35"/>
<circle cx="1284.4" cy="485.1" r="6.9" fill="#000" fill-opacity="0.18" stroke="#000" stroke-opacity="0.38" stroke-width="1.35"/>
<circle cx="1355.6" cy="456.2" r="6.9" fill="#000" fill-opacity="0.18" stroke="#000" stroke-opacity="0.38" stroke-width="1.35"/>
<circle cx="1422.1" cy="410.8" r="6.9" fill="#000" fill-opacity="0.18" stroke="#000" stroke-opacity="0.38" stroke-width="1.35"/>
<circle cx="1393.9" cy="493.3" r="6.9" fill="#000" fill-opacity="0.18" stroke="#000" stroke-opacity="0.38" stroke-width="1.35"/>
<circle cx="1485.5" cy="466.7" r="6.9" fill="#000" fill-opacity="0.18" stroke="#000" stroke-opacity="0.38" stroke-width="1.35"/>
<circle cx="1535.2" cy="484.2" r="6.9" fill="#000" fill-opacity="0.18" stroke="#000" stroke-opacity="0.38" stroke-width="1.35"/>
<circle cx="1544.8" cy="495.5" r="6.9" fill="#000" fill-opacity="0.18" stroke="#000" stroke-opacity="0.38" stroke-width="1.35"/>
<circle cx="1482.3" cy="511.3" r="6.9" fill="#000" fill-opacity="0.18" stroke="#000" stroke-opacity="0.38" stroke-width="1.35"/>
<circle cx="1514.7" cy="512.0" r="6.9" fill="#000" fill-opacity="0.18" stroke="#000" stroke-opacity="0.38" stroke-width="1.35"/>
<circle cx="1433.6" cy="522.5" r="6.9" fill="#000" fill-opacity="0.18" stroke="#000" stroke-opacity="0.38" stroke-width="1.35"/>
<circle cx="1458.9" cy="523.5" r="6.9" fill="#000" fill-opacity="0.18" stroke="#000" stroke-opacity="0.38" stroke-width="1.35"/>
<circle cx="1454.6" cy="528.0" r="6.9" fill="#000" fill-opacity="0.18" stroke="#000" stroke-opacity="0.38" stroke-width="1.35"/>
<circle cx="1411.5" cy="547.8" r="6.9" fill="#000" fill-opacity="0.18" stroke="#000" stroke-opacity="0.38" stroke-width="1.35"/>
<circle cx="1433.4" cy="554.0" r="6.9" fill="#000" fill-opacity="0.18" stroke="#000" stroke-opacity="0.38" stroke-width="1.35"/>
<circle cx="1516.0" cy="545.5" r="6.9" fill="#000" fill-opacity="0.18" stroke="#000" stroke-opacity="0.38" stroke-width="1.35"/>
<circle cx="1497.6" cy="557.2" r="6.9" fill="#000" fill-opacity="0.18" stroke="#000" stroke-opacity="0.38" stroke-width="1.35"/>
<circle cx="1665.7" cy="546.8" r="6.9" fill="#000" fill-opacity="0.18" stroke="#000" stroke-opacity="0.38" stroke-width="1.35"/>
<circle cx="1435.1" cy="539.8" r="6.9" fill="#000" fill-opacity="0.18" stroke="#000" stroke-opacity="0.38" stroke-width="1.35"/>
<circle cx="1011.6" cy="101.6" r="6.9" fill="#000" fill-opacity="0.18" stroke="#000" stroke-opacity="0.20" stroke-width="1.35"/>
<circle cx="1214.5" cy="203.8" r="6.9" fill="#000" fill-opacity="0.18" stroke="#000" stroke-opacity="0.20" stroke-width="1.35"/>
<circle cx="1212.7" cy="231.8" r="6.9" fill="#000" fill-opacity="0.18" stroke="#000" stroke-opacity="0.20" stroke-width="1.35"/>
<circle cx="1225.8" cy="254.4" r="6.9" fill="#000" fill-opacity="0.18" stroke="#000" stroke-opacity="0.20" stroke-width="1.35"/>
<circle cx="1422.4" cy="200.2" r="6.9" fill="#000" fill-opacity="0.18" stroke="#000" stroke-opacity="0.20" stroke-width="1.35"/>
<circle cx="1529.1" cy="192.0" r="6.9" fill="#000" fill-opacity="0.18" stroke="#000" stroke-opacity="0.20" stroke-width="1.35"/>
<circle cx="1554.0" cy="194.3" r="6.9" fill="#000" fill-opacity="0.18" stroke="#000" stroke-opacity="0.20" stroke-width="1.35"/>
<circle cx="1554.4" cy="202.0" r="6.9" fill="#000" fill-opacity="0.18" stroke="#000" stroke-opacity="0.20" stroke-width="1.35"/>
<circle cx="1411.1" cy="271.6" r="6.9" fill="#000" fill-opacity="0.18" stroke="#000" stroke-opacity="0.20" stroke-width="1.35"/>
<circle cx="1449.1" cy="270.2" r="6.9" fill="#000" fill-opacity="0.18" stroke="#000" stroke-opacity="0.20" stroke-width="1.35"/>
<circle cx="1502.4" cy="272.9" r="6.9" fill="#000" fill-opacity="0.18" stroke="#000" stroke-opacity="0.20" stroke-width="1.35"/>
<circle cx="1422.9" cy="337.6" r="6.9" fill="#000" fill-opacity="0.18" stroke="#000" stroke-opacity="0.20" stroke-width="1.35"/>
<circle cx="1514.2" cy="343.0" r="6.9" fill="#000" fill-opacity="0.18" stroke="#000" stroke-opacity="0.20" stroke-width="1.35"/>
<circle cx="1624.5" cy="336.7" r="6.9" fill="#000" fill-opacity="0.18" stroke="#000" stroke-opacity="0.20" stroke-width="1.35"/>
<circle cx="1599.6" cy="352.5" r="6.9" fill="#000" fill-opacity="0.18" stroke="#000" stroke-opacity="0.20" stroke-width="1.35"/>
<circle cx="1638.8" cy="353.5" r="6.9" fill="#000" fill-opacity="0.18" stroke="#000" stroke-opacity="0.20" stroke-width="1.35"/>
<circle cx="1641.6" cy="354.0" r="6.9" fill="#000" fill-opacity="0.18" stroke="#000" stroke-opacity="0.20" stroke-width="1.35"/>
<circle cx="1562.1" cy="387.3" r="6.9" fill="#000" fill-opacity="0.18" stroke="#000" stroke-opacity="0.20" stroke-width="1.35"/>
<circle cx="1582.9" cy="411.7" r="6.9" fill="#000" fill-opacity="0.18" stroke="#000" stroke-opacity="0.20" stroke-width="1.35"/>
<circle cx="1326.7" cy="319.9" r="6.9" fill="#000" fill-opacity="0.18" stroke="#000" stroke-opacity="0.38" stroke-width="1.35"/>
<circle cx="1373.0" cy="310.0" r="6.9" fill="#000" fill-opacity="0.18" stroke="#000" stroke-opacity="0.38" stroke-width="1.35"/>
<circle cx="1401.0" cy="388.0" r="6.9" fill="#000" fill-opacity="0.18" stroke="#000" stroke-opacity="0.38" stroke-width="1.35"/>
<circle cx="1434.6" cy="388.0" r="6.9" fill="#000" fill-opacity="0.18" stroke="#000" stroke-opacity="0.38" stroke-width="1.35"/>
<circle cx="1445.9" cy="350.1" r="6.9" fill="#000" fill-opacity="0.18" stroke="#000" stroke-opacity="0.38" stroke-width="1.35"/>
<circle cx="1473.0" cy="355.8" r="6.9" fill="#000" fill-opacity="0.18" stroke="#000" stroke-opacity="0.38" stroke-width="1.35"/>
<circle cx="1463.1" cy="384.6" r="6.9" fill="#000" fill-opacity="0.18" stroke="#000" stroke-opacity="0.38" stroke-width="1.35"/>
<circle cx="1470.2" cy="374.2" r="6.9" fill="#000" fill-opacity="0.18" stroke="#000" stroke-opacity="0.38" stroke-width="1.35"/>
<circle cx="1563.5" cy="343.7" r="6.9" fill="#000" fill-opacity="0.18" stroke="#000" stroke-opacity="0.38" stroke-width="1.35"/>
<circle cx="1559.3" cy="345.7" r="6.9" fill="#000" fill-opacity="0.18" stroke="#000" stroke-opacity="0.38" stroke-width="1.35"/>
<circle cx="1542.2" cy="358.6" r="6.9" fill="#000" fill-opacity="0.18" stroke="#000" stroke-opacity="0.38" stroke-width="1.35"/>
<circle cx="1553.5" cy="365.7" r="6.9" fill="#000" fill-opacity="0.18" stroke="#000" stroke-opacity="0.38" stroke-width="1.35"/>
<circle cx="1533.0" cy="378.7" r="6.9" fill="#000" fill-opacity="0.18" stroke="#000" stroke-opacity="0.38" stroke-width="1.35"/>
<circle cx="1529.8" cy="375.4" r="6.9" fill="#000" fill-opacity="0.18" stroke="#000" stroke-opacity="0.38" stroke-width="1.35"/>
<circle cx="1608.6" cy="396.8" r="6.9" fill="#000" fill-opacity="0.18" stroke="#000" stroke-opacity="0.38" stroke-width="1.35"/>
<circle cx="1604.9" cy="443.4" r="6.9" fill="#000" fill-opacity="0.18" stroke="#000" stroke-opacity="0.38" stroke-width="1.35"/>
<circle cx="1655.2" cy="440.0" r="6.9" fill="#000" fill-opacity="0.18" stroke="#000" stroke-opacity="0.38" stroke-width="1.35"/>
<circle cx="1648.2" cy="457.5" r="6.9" fill="#000" fill-opacity="0.18" stroke="#000" stroke-opacity="0.38" stroke-width="1.35"/>
<circle cx="1632.6" cy="451.8" r="6.9" fill="#000" fill-opacity="0.18" stroke="#000" stroke-opacity="0.38" stroke-width="1.35"/>
<circle cx="1592.7" cy="219.7" r="6.9" fill="#000" fill-opacity="0.18" stroke="#000" stroke-opacity="0.38" stroke-width="1.35"/>
<circle cx="1610.1" cy="235.4" r="6.9" fill="#000" fill-opacity="0.18" stroke="#000" stroke-opacity="0.38" stroke-width="1.35"/>
<circle cx="1576.2" cy="244.6" r="6.9" fill="#000" fill-opacity="0.18" stroke="#000" stroke-opacity="0.38" stroke-width="1.35"/>
<circle cx="1629.9" cy="243.7" r="6.9" fill="#000" fill-opacity="0.18" stroke="#000" stroke-opacity="0.38" stroke-width="1.35"/>
<circle cx="1596.1" cy="259.2" r="6.9" fill="#000" fill-opacity="0.18" stroke="#000" stroke-opacity="0.38" stroke-width="1.35"/>
<circle cx="1641.4" cy="255.6" r="6.9" fill="#000" fill-opacity="0.18" stroke="#000" stroke-opacity="0.38" stroke-width="1.35"/>
<circle cx="1583.5" cy="271.3" r="6.9" fill="#000" fill-opacity="0.18" stroke="#000" stroke-opacity="0.38" stroke-width="1.35"/>
<circle cx="1651.9" cy="268.8" r="6.9" fill="#000" fill-opacity="0.18" stroke="#000" stroke-opacity="0.38" stroke-width="1.35"/>
<circle cx="1634.1" cy="271.3" r="6.9" fill="#000" fill-opacity="0.18" stroke="#000" stroke-opacity="0.38" stroke-width="1.35"/>
<circle cx="1605.9" cy="278.6" r="6.9" fill="#000" fill-opacity="0.18" stroke="#000" stroke-opacity="0.38" stroke-width="1.35"/>
<circle cx="1605.7" cy="285.3" r="6.9" fill="#000" fill-opacity="0.18" stroke="#000" stroke-opacity="0.38" stroke-width="1.35"/>
<circle cx="1600.7" cy="289.1" r="6.9" fill="#000" fill-opacity="0.18" stroke="#000" stroke-opacity="0.38" stroke-width="1.35"/>
<circle cx="1670.7" cy="287.0" r="6.9" fill="#000" fill-opacity="0.18" stroke="#000" stroke-opacity="0.38" stroke-width="1.35"/>
<circle cx="1623.7" cy="297.5" r="6.9" fill="#000" fill-opacity="0.18" stroke="#000" stroke-opacity="0.38" stroke-width="1.35"/>
<circle cx="1667.6" cy="300.6" r="6.9" fill="#000" fill-opacity="0.18" stroke="#000" stroke-opacity="0.38" stroke-width="1.35"/>
<circle cx="1683.2" cy="305.8" r="6.9" fill="#000" fill-opacity="0.18" stroke="#000" stroke-opacity="0.38" stroke-width="1.35"/>
<circle cx="1731.7" cy="292.6" r="6.9" fill="#000" fill-opacity="0.18" stroke="#000" stroke-opacity="0.38" stroke-width="1.35"/>
<circle cx="1573.5" cy="313.1" r="6.9" fill="#000" fill-opacity="0.18" stroke="#000" stroke-opacity="0.38" stroke-width="1.35"/>
<circle cx="1651.9" cy="316.3" r="6.9" fill="#000" fill-opacity="0.18" stroke="#000" stroke-opacity="0.38" stroke-width="1.35"/>
<circle cx="1499.9" cy="347.6" r="6.9" fill="#000" fill-opacity="0.18" stroke="#000" stroke-opacity="0.38" stroke-width="1.35"/>
<circle cx="1011.6" cy="101.6" r="10.2" fill="#3182BD" fill-opacity="0.70" stroke="#3182BD" stroke-opacity="0.75" stroke-width="1.3"/>
<circle cx="1214.5" cy="203.8" r="10.2" fill="#3182BD" fill-opacity="0.70" stroke="#3182BD" stroke-opacity="0.75" stroke-width="1.3"/>
<circle cx="1212.7" cy="231.8" r="10.2" fill="#3182BD" fill-opacity="0.70" stroke="#3182BD" stroke-opacity="0.75" stroke-width="1.3"/>
<circle cx="1225.8" cy="254.4" r="10.2" fill="#3182BD" fill-opacity="0.70" stroke="#3182BD" stroke-opacity="0.75" stroke-width="1.3"/>
<circle cx="1422.4" cy="200.2" r="10.2" fill="#3182BD" fill-opacity="0.70" stroke="#3182BD" stroke-opacity="0.75" stroke-width="1.3"/>
<circle cx="1529.1" cy="192.0" r="10.2" fill="#3182BD" fill-opacity="0.70" stroke="#3182BD" stroke-opacity="0.75" stroke-width="1.3"/>
<circle cx="1554.0" cy="194.3" r="10.2" fill="#3182BD" fill-opacity="0.70" stroke="#3182BD" stroke-opacity="0.75" stroke-width="1.3"/>
<circle cx="1554.4" cy="202.0" r="10.2" fill="#3182BD" fill-opacity="0.70" stroke="#3182BD" stroke-opacity="0.75" stroke-width="1.3"/>
<circle cx="1411.1" cy="271.6" r="10.2" fill="#3182BD" fill-opacity="0.70" stroke="#3182BD" stroke-opacity="0.75" stroke-width="1.3"/>
<circle cx="1449.1" cy="270.2" r="10.2" fill="#3182BD" fill-opacity="0.70" stroke="#3182BD" stroke-opacity="0.75" stroke-width="1.3"/>
<circle cx="1502.4" cy="272.9" r="10.2" fill="#3182BD" fill-opacity="0.70" stroke="#3182BD" stroke-opacity="0.75" stroke-width="1.3"/>
<circle cx="1422.9" cy="337.6" r="10.2" fill="#3182BD" fill-opacity="0.70" stroke="#3182BD" stroke-opacity="0.75" stroke-width="1.3"/>
<circle cx="1514.2" cy="343.0" r="10.2" fill="#3182BD" fill-opacity="0.70" stroke="#3182BD" stroke-opacity="0.75" stroke-width="1.3"/>
<circle cx="1624.5" cy="336.7" r="10.2" fill="#3182BD" fill-opacity="0.70" stroke="#3182BD" stroke-opacity="0.75" stroke-width="1.3"/>
<circle cx="1599.6" cy="352.5" r="10.2" fill="#3182BD" fill-opacity="0.70" stroke="#3182BD" stroke-opacity="0.75" stroke-width="1.3"/>
<circle cx="1638.8" cy="353.5" r="10.2" fill="#3182BD" fill-opacity="0.70" stroke="#3182BD" stroke-opacity="0.75" stroke-width="1.3"/>
<circle cx="1641.6" cy="354.0" r="10.2" fill="#3182BD" fill-opacity="0.70" stroke="#3182BD" stroke-opacity="0.75" stroke-width="1.3"/>
<circle cx="1562.1" cy="387.3" r="10.2" fill="#3182BD" fill-opacity="0.70" stroke="#3182BD" stroke-opacity="0.75" stroke-width="1.3"/>
<circle cx="1582.9" cy="411.7" r="10.2" fill="#3182BD" fill-opacity="0.70" stroke="#3182BD" stroke-opacity="0.75" stroke-width="1.3"/>
<path d="M978.1 77.1 L979.0 75.9 L979.8 74.6 L980.7 73.5 L981.7 72.3 L982.7 71.2 L983.7 70.1 L984.8 69.0 L985.9 68.0 L987.0 67.0 L988.2 66.1 L989.4 65.2 L990.7 64.3 L992.0 63.5 L993.3 62.7 L994.6 62.0 L996.0 61.3 L997.4 60.7 L998.9 60.1 L1000.4 59.5 L1001.9 59.0 L1003.4 58.5 L1005.0 58.1 L1006.6 57.7 L1008.3 57.4 L1010.0 57.2 L1011.8 57.0 L1013.6 56.8 L1015.5 56.7 L1017.4 56.7 L1019.5 56.8 L1021.7 56.9 L1024.0 57.1 L1026.5 57.5 L1029.3 57.9 L1032.4 58.5 L1036.0 59.4 L1040.3 60.6 L1045.5 62.2 L1052.2 64.6 L1061.0 68.0 L1073.1 73.3 L1090.1 81.4 L1114.0 93.8 L1145.9 111.8 L1183.5 134.8 L1220.3 159.1 L1250.2 180.3 L1271.6 196.6 L1286.2 208.6 L1296.1 217.3 L1302.9 223.8 L1307.9 228.8 L1311.6 232.8 L1314.5 236.2 L1316.8 239.1 L1318.7 241.6 L1320.3 244.0 L1321.7 246.1 L1322.9 248.1 L1323.9 250.0 L1324.8 251.9 L1325.7 253.6 L1326.4 255.4 L1327.0 257.1 L1327.6 258.8 L1328.1 260.4 L1328.5 262.1 L1328.9 263.7 L1329.2 265.3 L1329.4 266.9 L1329.6 268.5 L1329.7 270.1 L1329.8 271.6 L1329.8 273.2 L1329.8 274.7 L1329.7 276.3 L1329.5 277.8 L1329.3 279.3 L1329.1 280.8 L1328.8 282.3 L1328.4 283.8 L1328.0 285.2 L1327.6 286.7 L1327.1 288.1 L1326.6 289.5 L1326.0 290.8 L1325.3 292.2 L1324.6 293.5 L1323.9 294.8 L1323.1 296.1 L1322.3 297.3 L1321.4 298.6 L1320.5 299.7 L1319.6 300.9 L1318.6 302.0 L1317.6 303.1 L1316.5 304.2 L1315.4 305.2 L1314.2 306.2 L1313.1 307.1 L1311.8 308.0 L1310.6 308.9 L1309.3 309.7 L1308.0 310.5 L1306.6 311.2 L1305.2 311.9 L1303.8 312.5 L1302.4 313.1 L1300.9 313.7 L1299.4 314.2 L1297.8 314.7 L1296.2 315.1 L1294.6 315.5 L1293.0 315.8 L1291.2 316.0 L1289.5 316.2 L1287.7 316.4 L1285.8 316.5 L1283.8 316.5 L1281.8 316.4 L1279.6 316.3 L1277.3 316.1 L1274.7 315.7 L1272.0 315.3 L1268.8 314.7 L1265.2 313.8 L1261.0 312.6 L1255.7 311.0 L1249.1 308.6 L1240.3 305.2 L1228.2 299.9 L1211.2 291.8 L1187.3 279.4 L1155.4 261.4 L1117.8 238.4 L1081.0 214.1 L1051.1 192.9 L1029.6 176.6 L1015.1 164.6 L1005.2 155.9 L998.3 149.4 L993.4 144.4 L989.6 140.4 L986.8 137.0 L984.4 134.1 L982.5 131.6 L980.9 129.2 L979.6 127.1 L978.4 125.1 L977.3 123.2 L976.4 121.3 L975.6 119.6 L974.9 117.8 L974.2 116.1 L973.7 114.4 L973.2 112.8 L972.8 111.1 L972.4 109.5 L972.1 107.9 L971.8 106.3 L971.7 104.7 L971.5 103.1 L971.5 101.6 L971.4 100.0 L971.5 98.5 L971.6 96.9 L971.7 95.4 L971.9 93.9 L972.2 92.4 L972.5 90.9 L972.8 89.4 L973.2 88.0 L973.7 86.5 L974.2 85.1 L974.7 83.7 L975.3 82.4 L975.9 81.0 L976.6 79.7 L977.4 78.4Z" fill="none" stroke="#1E70B5" stroke-width="3.3" stroke-linejoin="round"/>
<path d="M1383.6 200.5 L1383.6 199.0 L1383.7 197.6 L1383.8 196.2 L1383.9 194.8 L1384.1 193.5 L1384.4 192.1 L1384.7 190.7 L1385.0 189.3 L1385.4 188.0 L1385.8 186.6 L1386.3 185.3 L1386.9 184.0 L1387.4 182.7 L1388.1 181.5 L1388.7 180.2 L1389.4 179.0 L1390.2 177.8 L1391.0 176.6 L1391.8 175.5 L1392.7 174.4 L1393.6 173.3 L1394.6 172.2 L1395.6 171.2 L1396.6 170.2 L1397.7 169.3 L1398.8 168.4 L1399.9 167.5 L1401.1 166.6 L1402.3 165.8 L1403.6 165.1 L1404.8 164.3 L1406.2 163.6 L1407.5 163.0 L1409.0 162.3 L1410.5 161.7 L1412.0 161.2 L1413.7 160.6 L1415.6 160.1 L1417.7 159.6 L1420.3 159.0 L1423.8 158.4 L1429.3 157.7 L1439.4 156.7 L1461.5 155.3 L1503.9 154.1 L1546.3 154.2 L1568.4 155.0 L1578.6 155.7 L1584.0 156.3 L1587.6 156.8 L1590.2 157.3 L1592.3 157.8 L1594.2 158.3 L1595.9 158.8 L1597.5 159.3 L1599.0 159.8 L1600.5 160.4 L1601.9 161.1 L1603.2 161.7 L1604.5 162.4 L1605.8 163.2 L1607.0 163.9 L1608.2 164.7 L1609.4 165.6 L1610.5 166.5 L1611.6 167.4 L1612.6 168.4 L1613.7 169.4 L1614.6 170.4 L1615.6 171.5 L1616.5 172.5 L1617.4 173.7 L1618.2 174.8 L1619.0 176.0 L1619.7 177.2 L1620.4 178.4 L1621.1 179.7 L1621.7 180.9 L1622.3 182.2 L1622.8 183.5 L1623.3 184.9 L1623.7 186.2 L1624.1 187.5 L1624.4 188.9 L1624.7 190.3 L1624.9 191.7 L1625.1 193.1 L1625.3 194.5 L1625.3 195.9 L1625.4 197.3 L1625.4 198.7 L1625.3 200.1 L1625.2 201.5 L1625.1 202.9 L1624.9 204.3 L1624.6 205.7 L1624.3 207.0 L1624.0 208.4 L1623.6 209.8 L1623.1 211.1 L1622.6 212.4 L1622.1 213.7 L1621.5 215.0 L1620.9 216.3 L1620.2 217.5 L1619.5 218.7 L1618.8 219.9 L1618.0 221.1 L1617.1 222.2 L1616.3 223.4 L1615.4 224.4 L1614.4 225.5 L1613.4 226.5 L1612.4 227.5 L1611.3 228.4 L1610.2 229.4 L1609.1 230.2 L1607.9 231.1 L1606.7 231.9 L1605.4 232.7 L1604.1 233.4 L1602.8 234.1 L1601.4 234.8 L1600.0 235.4 L1598.5 236.0 L1596.9 236.6 L1595.3 237.1 L1593.4 237.6 L1591.3 238.1 L1588.6 238.7 L1585.1 239.3 L1579.7 240.0 L1569.5 241.0 L1547.5 242.4 L1505.1 243.7 L1462.6 243.5 L1440.6 242.7 L1430.4 242.0 L1424.9 241.4 L1421.4 240.9 L1418.8 240.4 L1416.6 239.9 L1414.8 239.5 L1413.1 239.0 L1411.5 238.5 L1410.0 237.9 L1408.5 237.3 L1407.1 236.7 L1405.8 236.0 L1404.5 235.3 L1403.2 234.6 L1402.0 233.8 L1400.8 233.0 L1399.6 232.1 L1398.5 231.2 L1397.4 230.3 L1396.3 229.4 L1395.3 228.4 L1394.3 227.3 L1393.4 226.3 L1392.5 225.2 L1391.6 224.1 L1390.8 222.9 L1390.0 221.7 L1389.3 220.5 L1388.6 219.3 L1387.9 218.1 L1387.3 216.8 L1386.7 215.5 L1386.2 214.2 L1385.7 212.9 L1385.3 211.5 L1384.9 210.2 L1384.6 208.8 L1384.3 207.4 L1384.1 206.1 L1383.9 204.7 L1383.7 203.3 L1383.6 201.9Z" fill="none" stroke="#1E70B5" stroke-width="3.3" stroke-linejoin="round"/>
<path d="M1355.0 339.8 L1354.1 337.8 L1353.2 335.8 L1352.4 333.7 L1351.6 331.6 L1350.9 329.5 L1350.3 327.4 L1349.8 325.2 L1349.3 323.0 L1348.9 320.7 L1348.6 318.5 L1348.4 316.2 L1348.2 313.8 L1348.1 311.5 L1348.2 309.1 L1348.2 306.7 L1348.4 304.2 L1348.7 301.7 L1349.0 299.2 L1349.5 296.7 L1350.1 294.1 L1350.7 291.5 L1351.5 288.9 L1352.4 286.2 L1353.4 283.5 L1354.5 280.8 L1355.7 278.0 L1357.1 275.2 L1358.6 272.4 L1360.3 269.5 L1362.1 266.6 L1364.1 263.7 L1366.2 260.7 L1368.6 257.8 L1371.1 254.8 L1373.8 251.8 L1376.6 248.9 L1379.7 245.9 L1383.0 243.0 L1386.4 240.1 L1390.0 237.3 L1393.8 234.6 L1397.8 231.9 L1401.9 229.4 L1406.1 227.0 L1410.4 224.7 L1414.8 222.6 L1419.2 220.6 L1423.7 218.8 L1428.2 217.2 L1432.6 215.8 L1437.0 214.5 L1441.4 213.4 L1445.7 212.5 L1449.9 211.8 L1454.0 211.3 L1458.0 210.9 L1461.8 210.6 L1465.6 210.5 L1469.2 210.5 L1472.8 210.6 L1476.2 210.9 L1479.5 211.2 L1482.6 211.7 L1485.7 212.2 L1488.7 212.9 L1491.6 213.6 L1494.3 214.4 L1497.0 215.3 L1499.6 216.2 L1502.1 217.2 L1504.5 218.3 L1506.8 219.4 L1509.0 220.6 L1511.2 221.9 L1513.3 223.2 L1515.3 224.6 L1517.2 226.0 L1519.0 227.4 L1520.8 228.9 L1522.5 230.5 L1524.2 232.1 L1525.8 233.7 L1527.3 235.4 L1528.7 237.1 L1530.1 238.9 L1531.4 240.7 L1532.6 242.5 L1533.8 244.4 L1534.9 246.3 L1535.9 248.3 L1536.9 250.3 L1537.8 252.3 L1538.6 254.3 L1539.3 256.4 L1540.0 258.5 L1540.6 260.7 L1541.2 262.9 L1541.6 265.1 L1542.0 267.3 L1542.3 269.6 L1542.6 271.9 L1542.7 274.2 L1542.8 276.6 L1542.8 279.0 L1542.7 281.4 L1542.5 283.8 L1542.2 286.3 L1541.9 288.8 L1541.4 291.4 L1540.9 293.9 L1540.2 296.6 L1539.4 299.2 L1538.6 301.9 L1537.6 304.6 L1536.5 307.3 L1535.2 310.1 L1533.8 312.9 L1532.3 315.7 L1530.7 318.6 L1528.8 321.5 L1526.9 324.4 L1524.7 327.3 L1522.4 330.3 L1519.9 333.3 L1517.2 336.2 L1514.3 339.2 L1511.2 342.1 L1508.0 345.1 L1504.5 347.9 L1500.9 350.7 L1497.1 353.5 L1493.2 356.1 L1489.1 358.7 L1484.9 361.1 L1480.5 363.4 L1476.1 365.5 L1471.7 367.5 L1467.2 369.2 L1462.8 370.9 L1458.3 372.3 L1453.9 373.5 L1449.5 374.6 L1445.3 375.5 L1441.1 376.2 L1437.0 376.8 L1433.0 377.2 L1429.1 377.5 L1425.3 377.6 L1421.7 377.6 L1418.2 377.5 L1414.8 377.2 L1411.5 376.8 L1408.3 376.4 L1405.2 375.8 L1402.2 375.2 L1399.4 374.5 L1396.6 373.7 L1393.9 372.8 L1391.4 371.9 L1388.9 370.8 L1386.5 369.8 L1384.2 368.6 L1381.9 367.4 L1379.8 366.2 L1377.7 364.9 L1375.7 363.5 L1373.7 362.1 L1371.9 360.6 L1370.1 359.1 L1368.4 357.6 L1366.7 356.0 L1365.2 354.3 L1363.7 352.7 L1362.2 350.9 L1360.9 349.2 L1359.6 347.4 L1358.3 345.5 L1357.2 343.6 L1356.1 341.7Z" fill="none" stroke="#1E70B5" stroke-width="3.3" stroke-linejoin="round"/>
<path d="M1484.0 312.3 L1485.0 311.4 L1486.0 310.4 L1487.1 309.5 L1488.2 308.7 L1489.3 307.8 L1490.4 307.0 L1491.6 306.3 L1492.8 305.6 L1494.1 304.9 L1495.3 304.3 L1496.6 303.7 L1497.9 303.2 L1499.2 302.7 L1500.5 302.3 L1501.9 301.9 L1503.2 301.5 L1504.6 301.2 L1506.0 301.0 L1507.3 300.8 L1508.7 300.6 L1510.1 300.5 L1511.5 300.5 L1512.9 300.5 L1514.3 300.5 L1515.7 300.6 L1517.1 300.7 L1518.5 300.9 L1519.9 301.1 L1521.3 301.4 L1522.6 301.8 L1524.0 302.1 L1525.4 302.6 L1526.7 303.1 L1528.0 303.6 L1529.3 304.2 L1530.6 304.8 L1531.9 305.5 L1533.2 306.2 L1534.5 307.0 L1535.9 307.9 L1537.4 309.0 L1539.2 310.4 L1542.0 312.8 L1549.7 319.6 L1582.4 351.0 L1614.1 383.3 L1621.1 390.9 L1623.5 393.7 L1624.9 395.5 L1626.0 397.0 L1626.9 398.4 L1627.8 399.7 L1628.5 400.9 L1629.2 402.2 L1629.8 403.5 L1630.4 404.8 L1631.0 406.2 L1631.5 407.5 L1631.9 408.8 L1632.3 410.2 L1632.7 411.5 L1633.0 412.9 L1633.2 414.3 L1633.4 415.7 L1633.6 417.1 L1633.7 418.5 L1633.7 419.9 L1633.7 421.3 L1633.7 422.7 L1633.6 424.1 L1633.5 425.5 L1633.3 426.9 L1633.1 428.2 L1632.8 429.6 L1632.4 431.0 L1632.1 432.3 L1631.6 433.6 L1631.2 435.0 L1630.6 436.3 L1630.1 437.5 L1629.5 438.8 L1628.8 440.0 L1628.1 441.3 L1627.4 442.4 L1626.6 443.6 L1625.8 444.7 L1625.0 445.9 L1624.1 446.9 L1623.1 448.0 L1622.2 449.0 L1621.2 450.0 L1620.1 450.9 L1619.1 451.8 L1618.0 452.7 L1616.9 453.5 L1615.7 454.3 L1614.5 455.0 L1613.3 455.7 L1612.1 456.4 L1610.8 457.0 L1609.6 457.6 L1608.3 458.1 L1606.9 458.6 L1605.6 459.1 L1604.3 459.5 L1602.9 459.8 L1601.6 460.1 L1600.2 460.4 L1598.8 460.6 L1597.4 460.7 L1596.0 460.8 L1594.6 460.9 L1593.2 460.9 L1591.8 460.8 L1590.4 460.7 L1589.0 460.6 L1587.6 460.4 L1586.2 460.2 L1584.9 459.9 L1583.5 459.6 L1582.1 459.2 L1580.8 458.8 L1579.4 458.3 L1578.1 457.8 L1576.8 457.2 L1575.5 456.6 L1574.2 455.9 L1572.9 455.1 L1571.6 454.3 L1570.2 453.4 L1568.8 452.4 L1566.9 451.0 L1564.1 448.6 L1556.4 441.7 L1523.8 410.3 L1492.0 378.0 L1485.0 370.4 L1482.6 367.6 L1481.2 365.8 L1480.1 364.3 L1479.2 363.0 L1478.4 361.7 L1477.6 360.4 L1476.9 359.1 L1476.3 357.8 L1475.7 356.5 L1475.2 355.2 L1474.7 353.9 L1474.2 352.5 L1473.8 351.2 L1473.5 349.8 L1473.2 348.4 L1472.9 347.0 L1472.7 345.6 L1472.6 344.3 L1472.5 342.9 L1472.4 341.5 L1472.4 340.1 L1472.4 338.7 L1472.5 337.3 L1472.7 335.9 L1472.8 334.5 L1473.1 333.1 L1473.4 331.7 L1473.7 330.4 L1474.1 329.0 L1474.5 327.7 L1475.0 326.4 L1475.5 325.1 L1476.0 323.8 L1476.7 322.5 L1477.3 321.3 L1478.0 320.1 L1478.7 318.9 L1479.5 317.7 L1480.3 316.6 L1481.2 315.5 L1482.1 314.4 L1483.0 313.4Z" fill="none" stroke="#1E70B5" stroke-width="3.3" stroke-linejoin="round"/>
<path d="M1557.5 348.8 L1557.5 347.2 L1557.6 345.6 L1557.7 344.1 L1557.9 342.5 L1558.1 340.9 L1558.4 339.4 L1558.7 337.8 L1559.1 336.3 L1559.5 334.8 L1560.0 333.3 L1560.6 331.8 L1561.2 330.3 L1561.8 328.8 L1562.5 327.3 L1563.3 325.9 L1564.1 324.5 L1565.0 323.1 L1565.9 321.7 L1566.9 320.3 L1568.0 319.0 L1569.1 317.6 L1570.3 316.3 L1571.5 315.1 L1572.8 313.8 L1574.2 312.6 L1575.6 311.4 L1577.1 310.2 L1578.7 309.1 L1580.3 308.0 L1582.0 306.9 L1583.9 305.9 L1585.8 304.8 L1587.8 303.8 L1590.0 302.9 L1592.2 302.0 L1594.6 301.1 L1597.1 300.3 L1599.7 299.6 L1602.4 298.9 L1605.3 298.3 L1608.3 297.8 L1611.4 297.3 L1614.6 297.0 L1617.8 296.8 L1621.1 296.7 L1624.3 296.7 L1627.6 296.8 L1630.8 297.0 L1633.9 297.4 L1636.9 297.8 L1639.8 298.3 L1642.5 298.9 L1645.2 299.5 L1647.7 300.3 L1650.1 301.1 L1652.4 301.9 L1654.5 302.8 L1656.6 303.7 L1658.5 304.6 L1660.4 305.6 L1662.2 306.7 L1663.9 307.7 L1665.5 308.8 L1667.0 309.9 L1668.5 311.1 L1669.9 312.2 L1671.2 313.4 L1672.5 314.7 L1673.7 315.9 L1674.8 317.2 L1675.9 318.5 L1677.0 319.9 L1678.0 321.2 L1678.9 322.6 L1679.8 324.0 L1680.6 325.4 L1681.3 326.8 L1682.0 328.3 L1682.7 329.8 L1683.3 331.2 L1683.8 332.7 L1684.3 334.3 L1684.8 335.8 L1685.1 337.3 L1685.5 338.9 L1685.7 340.4 L1686.0 342.0 L1686.1 343.5 L1686.2 345.1 L1686.3 346.7 L1686.3 348.3 L1686.2 349.8 L1686.1 351.4 L1685.9 353.0 L1685.7 354.5 L1685.4 356.1 L1685.1 357.6 L1684.7 359.2 L1684.3 360.7 L1683.8 362.2 L1683.2 363.7 L1682.6 365.2 L1682.0 366.7 L1681.3 368.1 L1680.5 369.6 L1679.7 371.0 L1678.8 372.4 L1677.9 373.8 L1676.9 375.2 L1675.8 376.5 L1674.7 377.8 L1673.5 379.1 L1672.3 380.4 L1671.0 381.6 L1669.6 382.9 L1668.2 384.1 L1666.7 385.2 L1665.1 386.4 L1663.5 387.5 L1661.7 388.6 L1659.9 389.6 L1658.0 390.6 L1656.0 391.6 L1653.8 392.6 L1651.6 393.5 L1649.2 394.3 L1646.7 395.1 L1644.1 395.9 L1641.4 396.6 L1638.5 397.2 L1635.5 397.7 L1632.4 398.1 L1629.2 398.5 L1626.0 398.7 L1622.7 398.8 L1619.5 398.8 L1616.2 398.7 L1613.0 398.4 L1609.9 398.1 L1606.9 397.7 L1604.0 397.2 L1601.3 396.6 L1598.6 395.9 L1596.1 395.2 L1593.7 394.4 L1591.4 393.6 L1589.3 392.7 L1587.2 391.8 L1585.3 390.8 L1583.4 389.8 L1581.6 388.8 L1579.9 387.8 L1578.3 386.7 L1576.8 385.5 L1575.3 384.4 L1573.9 383.2 L1572.6 382.0 L1571.3 380.8 L1570.1 379.5 L1569.0 378.2 L1567.9 376.9 L1566.8 375.6 L1565.8 374.3 L1564.9 372.9 L1564.0 371.5 L1563.2 370.1 L1562.5 368.6 L1561.8 367.2 L1561.1 365.7 L1560.5 364.2 L1560.0 362.7 L1559.5 361.2 L1559.0 359.7 L1558.7 358.1 L1558.3 356.6 L1558.1 355.0 L1557.8 353.5 L1557.7 351.9 L1557.6 350.4Z" fill="none" stroke="#1E70B5" stroke-width="3.3" stroke-linejoin="round"/>
<path d="M1147.5 197.9H1183.9M1165.7 179.7V216.1M1152.8 185.0L1178.6 210.8M1152.8 210.8L1178.6 185.0" stroke="#000" stroke-width="2.6" stroke-linecap="round" fill="none"/>
<path d="M1496.4 197.9H1532.8M1514.6 179.7V216.1M1501.7 185.0L1527.5 210.8M1501.7 210.8L1527.5 185.0" stroke="#000" stroke-width="2.6" stroke-linecap="round" fill="none"/>
<path d="M1427.3 288.8H1463.7M1445.5 270.6V307.0M1432.6 275.9L1458.4 301.7M1432.6 301.7L1458.4 275.9" stroke="#000" stroke-width="2.6" stroke-linecap="round" fill="none"/>
<path d="M1534.9 381.0H1571.3M1553.1 362.8V399.2M1540.2 368.1L1566.0 393.9M1540.2 393.9L1566.0 368.1" stroke="#000" stroke-width="2.6" stroke-linecap="round" fill="none"/>
<path d="M1608.1 349.3H1644.5M1626.3 331.1V367.5M1613.4 336.4L1639.2 362.2M1613.4 362.2L1639.2 336.4" stroke="#000" stroke-width="2.6" stroke-linecap="round" fill="none"/>
<circle cx="1456.8" cy="277.9" r="13.3" fill="#000"/>
</g>
<rect x="976.6" y="79.5" width="791.1" height="499.6" fill="none" stroke="#222" stroke-width="1.8"/>
<line x1="1102.7" x2="1102.7" y1="579.1" y2="587.7" stroke="#262626" stroke-width="2.8"/>
<text class="tk" text-anchor="middle" x="1102.7" y="612.2">−200</text>
<line x1="1305.3" x2="1305.3" y1="579.1" y2="587.7" stroke="#262626" stroke-width="2.8"/>
<text class="tk" text-anchor="middle" x="1305.3" y="612.2">−100</text>
<line x1="1507.9" x2="1507.9" y1="579.1" y2="587.7" stroke="#262626" stroke-width="2.8"/>
<text class="tk" text-anchor="middle" x="1507.9" y="612.2">0</text>
<line x1="1710.5" x2="1710.5" y1="579.1" y2="587.7" stroke="#262626" stroke-width="2.8"/>
<text class="tk" text-anchor="middle" x="1710.5" y="612.2">100</text>
<line x1="967.8" x2="976.6" y1="215.1" y2="215.1" stroke="#262626" stroke-width="2.8"/>
<text class="tk" text-anchor="end" x="961.8" y="224.5">50</text>
<line x1="967.8" x2="976.6" y1="359.9" y2="359.9" stroke="#262626" stroke-width="2.8"/>
<text class="tk" text-anchor="end" x="961.8" y="369.3">0</text>
<line x1="967.8" x2="976.6" y1="504.7" y2="504.7" stroke="#262626" stroke-width="2.8"/>
<text class="tk" text-anchor="end" x="961.8" y="514.1">−50</text>
</g>
<g>
<clipPath id="cpRMS"><rect x="102.3" y="650.7" width="791.1" height="499.1"/></clipPath>
<line x1="127.3" x2="127.3" y1="652.9" y2="1147.6" stroke="#eeeeee" stroke-width="1.5"/>
<line x1="329.9" x2="329.9" y1="652.9" y2="1147.6" stroke="#eeeeee" stroke-width="1.5"/>
<line x1="532.5" x2="532.5" y1="652.9" y2="1147.6" stroke="#eeeeee" stroke-width="1.5"/>
<line x1="735.1" x2="735.1" y1="652.9" y2="1147.6" stroke="#eeeeee" stroke-width="1.5"/>
<line x1="104.5" x2="891.2" y1="713.8" y2="713.8" stroke="#eeeeee" stroke-width="1.5"/>
<line x1="104.5" x2="891.2" y1="858.6" y2="858.6" stroke="#eeeeee" stroke-width="1.5"/>
<line x1="104.5" x2="891.2" y1="1003.4" y2="1003.4" stroke="#eeeeee" stroke-width="1.5"/>
<line x1="228.6" x2="228.6" y1="652.9" y2="1147.6" stroke="#eaeaea" stroke-width="2.6"/>
<line x1="431.2" x2="431.2" y1="652.9" y2="1147.6" stroke="#eaeaea" stroke-width="2.6"/>
<line x1="633.8" x2="633.8" y1="652.9" y2="1147.6" stroke="#eaeaea" stroke-width="2.6"/>
<line x1="836.4" x2="836.4" y1="652.9" y2="1147.6" stroke="#eaeaea" stroke-width="2.6"/>
<line x1="104.5" x2="891.2" y1="786.2" y2="786.2" stroke="#eaeaea" stroke-width="2.6"/>
<line x1="104.5" x2="891.2" y1="931.0" y2="931.0" stroke="#eaeaea" stroke-width="2.6"/>
<line x1="104.5" x2="891.2" y1="1075.8" y2="1075.8" stroke="#eaeaea" stroke-width="2.6"/>
<g clip-path="url(#cpRMS)">
<circle cx="269.3" cy="917.0" r="6.9" fill="#000" fill-opacity="0.18" stroke="#000" stroke-opacity="0.38" stroke-width="1.35"/>
<circle cx="325.6" cy="1014.4" r="6.9" fill="#000" fill-opacity="0.18" stroke="#000" stroke-opacity="0.38" stroke-width="1.35"/>
<circle cx="410.3" cy="1056.2" r="6.9" fill="#000" fill-opacity="0.18" stroke="#000" stroke-opacity="0.38" stroke-width="1.35"/>
<circle cx="481.5" cy="1027.3" r="6.9" fill="#000" fill-opacity="0.18" stroke="#000" stroke-opacity="0.38" stroke-width="1.35"/>
<circle cx="548.0" cy="981.9" r="6.9" fill="#000" fill-opacity="0.18" stroke="#000" stroke-opacity="0.38" stroke-width="1.35"/>
<circle cx="519.8" cy="1064.4" r="6.9" fill="#000" fill-opacity="0.18" stroke="#000" stroke-opacity="0.38" stroke-width="1.35"/>
<circle cx="611.4" cy="1037.8" r="6.9" fill="#000" fill-opacity="0.18" stroke="#000" stroke-opacity="0.38" stroke-width="1.35"/>
<circle cx="661.1" cy="1055.3" r="6.9" fill="#000" fill-opacity="0.18" stroke="#000" stroke-opacity="0.38" stroke-width="1.35"/>
<circle cx="670.7" cy="1066.6" r="6.9" fill="#000" fill-opacity="0.18" stroke="#000" stroke-opacity="0.38" stroke-width="1.35"/>
<circle cx="608.2" cy="1082.4" r="6.9" fill="#000" fill-opacity="0.18" stroke="#000" stroke-opacity="0.38" stroke-width="1.35"/>
<circle cx="640.6" cy="1083.1" r="6.9" fill="#000" fill-opacity="0.18" stroke="#000" stroke-opacity="0.38" stroke-width="1.35"/>
<circle cx="559.5" cy="1093.6" r="6.9" fill="#000" fill-opacity="0.18" stroke="#000" stroke-opacity="0.38" stroke-width="1.35"/>
<circle cx="584.8" cy="1094.6" r="6.9" fill="#000" fill-opacity="0.18" stroke="#000" stroke-opacity="0.38" stroke-width="1.35"/>
<circle cx="580.5" cy="1099.1" r="6.9" fill="#000" fill-opacity="0.18" stroke="#000" stroke-opacity="0.38" stroke-width="1.35"/>
<circle cx="537.4" cy="1118.9" r="6.9" fill="#000" fill-opacity="0.18" stroke="#000" stroke-opacity="0.38" stroke-width="1.35"/>
<circle cx="559.3" cy="1125.1" r="6.9" fill="#000" fill-opacity="0.18" stroke="#000" stroke-opacity="0.38" stroke-width="1.35"/>
<circle cx="641.9" cy="1116.6" r="6.9" fill="#000" fill-opacity="0.18" stroke="#000" stroke-opacity="0.38" stroke-width="1.35"/>
<circle cx="623.5" cy="1128.3" r="6.9" fill="#000" fill-opacity="0.18" stroke="#000" stroke-opacity="0.38" stroke-width="1.35"/>
<circle cx="791.6" cy="1117.9" r="6.9" fill="#000" fill-opacity="0.18" stroke="#000" stroke-opacity="0.38" stroke-width="1.35"/>
<circle cx="561.0" cy="1110.9" r="6.9" fill="#000" fill-opacity="0.18" stroke="#000" stroke-opacity="0.38" stroke-width="1.35"/>
<circle cx="137.5" cy="672.7" r="6.9" fill="#000" fill-opacity="0.18" stroke="#000" stroke-opacity="0.38" stroke-width="1.35"/>
<circle cx="340.4" cy="774.9" r="6.9" fill="#000" fill-opacity="0.18" stroke="#000" stroke-opacity="0.38" stroke-width="1.35"/>
<circle cx="338.6" cy="802.9" r="6.9" fill="#000" fill-opacity="0.18" stroke="#000" stroke-opacity="0.38" stroke-width="1.35"/>
<circle cx="351.7" cy="825.5" r="6.9" fill="#000" fill-opacity="0.18" stroke="#000" stroke-opacity="0.38" stroke-width="1.35"/>
<circle cx="548.3" cy="771.3" r="6.9" fill="#000" fill-opacity="0.18" stroke="#000" stroke-opacity="0.38" stroke-width="1.35"/>
<circle cx="655.0" cy="763.1" r="6.9" fill="#000" fill-opacity="0.18" stroke="#000" stroke-opacity="0.38" stroke-width="1.35"/>
<circle cx="679.9" cy="765.4" r="6.9" fill="#000" fill-opacity="0.18" stroke="#000" stroke-opacity="0.38" stroke-width="1.35"/>
<circle cx="680.3" cy="773.1" r="6.9" fill="#000" fill-opacity="0.18" stroke="#000" stroke-opacity="0.38" stroke-width="1.35"/>
<circle cx="537.0" cy="842.7" r="6.9" fill="#000" fill-opacity="0.18" stroke="#000" stroke-opacity="0.38" stroke-width="1.35"/>
<circle cx="575.0" cy="841.3" r="6.9" fill="#000" fill-opacity="0.18" stroke="#000" stroke-opacity="0.38" stroke-width="1.35"/>
<circle cx="628.3" cy="844.0" r="6.9" fill="#000" fill-opacity="0.18" stroke="#000" stroke-opacity="0.38" stroke-width="1.35"/>
<circle cx="548.8" cy="908.7" r="6.9" fill="#000" fill-opacity="0.18" stroke="#000" stroke-opacity="0.38" stroke-width="1.35"/>
<circle cx="640.1" cy="914.1" r="6.9" fill="#000" fill-opacity="0.18" stroke="#000" stroke-opacity="0.38" stroke-width="1.35"/>
<circle cx="750.4" cy="907.8" r="6.9" fill="#000" fill-opacity="0.18" stroke="#000" stroke-opacity="0.38" stroke-width="1.35"/>
<circle cx="725.5" cy="923.6" r="6.9" fill="#000" fill-opacity="0.18" stroke="#000" stroke-opacity="0.38" stroke-width="1.35"/>
<circle cx="764.7" cy="924.6" r="6.9" fill="#000" fill-opacity="0.18" stroke="#000" stroke-opacity="0.38" stroke-width="1.35"/>
<circle cx="767.5" cy="925.1" r="6.9" fill="#000" fill-opacity="0.18" stroke="#000" stroke-opacity="0.38" stroke-width="1.35"/>
<circle cx="688.0" cy="958.4" r="6.9" fill="#000" fill-opacity="0.18" stroke="#000" stroke-opacity="0.38" stroke-width="1.35"/>
<circle cx="708.8" cy="982.8" r="6.9" fill="#000" fill-opacity="0.18" stroke="#000" stroke-opacity="0.38" stroke-width="1.35"/>
<circle cx="452.6" cy="891.0" r="6.9" fill="#000" fill-opacity="0.18" stroke="#000" stroke-opacity="0.20" stroke-width="1.35"/>
<circle cx="498.9" cy="881.1" r="6.9" fill="#000" fill-opacity="0.18" stroke="#000" stroke-opacity="0.20" stroke-width="1.35"/>
<circle cx="526.9" cy="959.1" r="6.9" fill="#000" fill-opacity="0.18" stroke="#000" stroke-opacity="0.20" stroke-width="1.35"/>
<circle cx="560.5" cy="959.1" r="6.9" fill="#000" fill-opacity="0.18" stroke="#000" stroke-opacity="0.20" stroke-width="1.35"/>
<circle cx="571.8" cy="921.2" r="6.9" fill="#000" fill-opacity="0.18" stroke="#000" stroke-opacity="0.20" stroke-width="1.35"/>
<circle cx="598.9" cy="926.9" r="6.9" fill="#000" fill-opacity="0.18" stroke="#000" stroke-opacity="0.20" stroke-width="1.35"/>
<circle cx="589.0" cy="955.7" r="6.9" fill="#000" fill-opacity="0.18" stroke="#000" stroke-opacity="0.20" stroke-width="1.35"/>
<circle cx="596.1" cy="945.3" r="6.9" fill="#000" fill-opacity="0.18" stroke="#000" stroke-opacity="0.20" stroke-width="1.35"/>
<circle cx="689.4" cy="914.8" r="6.9" fill="#000" fill-opacity="0.18" stroke="#000" stroke-opacity="0.20" stroke-width="1.35"/>
<circle cx="685.2" cy="916.8" r="6.9" fill="#000" fill-opacity="0.18" stroke="#000" stroke-opacity="0.20" stroke-width="1.35"/>
<circle cx="668.1" cy="929.7" r="6.9" fill="#000" fill-opacity="0.18" stroke="#000" stroke-opacity="0.20" stroke-width="1.35"/>
<circle cx="679.4" cy="936.8" r="6.9" fill="#000" fill-opacity="0.18" stroke="#000" stroke-opacity="0.20" stroke-width="1.35"/>
<circle cx="658.9" cy="949.8" r="6.9" fill="#000" fill-opacity="0.18" stroke="#000" stroke-opacity="0.20" stroke-width="1.35"/>
<circle cx="655.7" cy="946.5" r="6.9" fill="#000" fill-opacity="0.18" stroke="#000" stroke-opacity="0.20" stroke-width="1.35"/>
<circle cx="734.5" cy="967.9" r="6.9" fill="#000" fill-opacity="0.18" stroke="#000" stroke-opacity="0.20" stroke-width="1.35"/>
<circle cx="730.8" cy="1014.5" r="6.9" fill="#000" fill-opacity="0.18" stroke="#000" stroke-opacity="0.20" stroke-width="1.35"/>
<circle cx="781.1" cy="1011.1" r="6.9" fill="#000" fill-opacity="0.18" stroke="#000" stroke-opacity="0.20" stroke-width="1.35"/>
<circle cx="774.1" cy="1028.6" r="6.9" fill="#000" fill-opacity="0.18" stroke="#000" stroke-opacity="0.20" stroke-width="1.35"/>
<circle cx="758.5" cy="1022.9" r="6.9" fill="#000" fill-opacity="0.18" stroke="#000" stroke-opacity="0.20" stroke-width="1.35"/>
<circle cx="718.6" cy="790.8" r="6.9" fill="#000" fill-opacity="0.18" stroke="#000" stroke-opacity="0.38" stroke-width="1.35"/>
<circle cx="736.0" cy="806.5" r="6.9" fill="#000" fill-opacity="0.18" stroke="#000" stroke-opacity="0.38" stroke-width="1.35"/>
<circle cx="702.1" cy="815.7" r="6.9" fill="#000" fill-opacity="0.18" stroke="#000" stroke-opacity="0.38" stroke-width="1.35"/>
<circle cx="755.8" cy="814.8" r="6.9" fill="#000" fill-opacity="0.18" stroke="#000" stroke-opacity="0.38" stroke-width="1.35"/>
<circle cx="722.0" cy="830.3" r="6.9" fill="#000" fill-opacity="0.18" stroke="#000" stroke-opacity="0.38" stroke-width="1.35"/>
<circle cx="767.3" cy="826.7" r="6.9" fill="#000" fill-opacity="0.18" stroke="#000" stroke-opacity="0.38" stroke-width="1.35"/>
<circle cx="709.4" cy="842.4" r="6.9" fill="#000" fill-opacity="0.18" stroke="#000" stroke-opacity="0.38" stroke-width="1.35"/>
<circle cx="777.8" cy="839.9" r="6.9" fill="#000" fill-opacity="0.18" stroke="#000" stroke-opacity="0.38" stroke-width="1.35"/>
<circle cx="760.0" cy="842.4" r="6.9" fill="#000" fill-opacity="0.18" stroke="#000" stroke-opacity="0.38" stroke-width="1.35"/>
<circle cx="731.8" cy="849.7" r="6.9" fill="#000" fill-opacity="0.18" stroke="#000" stroke-opacity="0.38" stroke-width="1.35"/>
<circle cx="731.6" cy="856.4" r="6.9" fill="#000" fill-opacity="0.18" stroke="#000" stroke-opacity="0.38" stroke-width="1.35"/>
<circle cx="726.6" cy="860.2" r="6.9" fill="#000" fill-opacity="0.18" stroke="#000" stroke-opacity="0.38" stroke-width="1.35"/>
<circle cx="796.6" cy="858.1" r="6.9" fill="#000" fill-opacity="0.18" stroke="#000" stroke-opacity="0.38" stroke-width="1.35"/>
<circle cx="749.6" cy="868.6" r="6.9" fill="#000" fill-opacity="0.18" stroke="#000" stroke-opacity="0.38" stroke-width="1.35"/>
<circle cx="793.5" cy="871.7" r="6.9" fill="#000" fill-opacity="0.18" stroke="#000" stroke-opacity="0.38" stroke-width="1.35"/>
<circle cx="809.1" cy="876.9" r="6.9" fill="#000" fill-opacity="0.18" stroke="#000" stroke-opacity="0.38" stroke-width="1.35"/>
<circle cx="857.6" cy="863.7" r="6.9" fill="#000" fill-opacity="0.18" stroke="#000" stroke-opacity="0.38" stroke-width="1.35"/>
<circle cx="699.4" cy="884.2" r="6.9" fill="#000" fill-opacity="0.18" stroke="#000" stroke-opacity="0.38" stroke-width="1.35"/>
<circle cx="777.8" cy="887.4" r="6.9" fill="#000" fill-opacity="0.18" stroke="#000" stroke-opacity="0.38" stroke-width="1.35"/>
<circle cx="625.8" cy="918.7" r="6.9" fill="#000" fill-opacity="0.18" stroke="#000" stroke-opacity="0.38" stroke-width="1.35"/>
<circle cx="452.6" cy="891.0" r="10.2" fill="#C51B8A" fill-opacity="0.64" stroke="#C51B8A" stroke-opacity="0.75" stroke-width="1.3"/>
<circle cx="498.9" cy="881.1" r="10.2" fill="#C51B8A" fill-opacity="0.64" stroke="#C51B8A" stroke-opacity="0.75" stroke-width="1.3"/>
<circle cx="526.9" cy="959.1" r="10.2" fill="#C51B8A" fill-opacity="0.64" stroke="#C51B8A" stroke-opacity="0.75" stroke-width="1.3"/>
<circle cx="560.5" cy="959.1" r="10.2" fill="#C51B8A" fill-opacity="0.64" stroke="#C51B8A" stroke-opacity="0.75" stroke-width="1.3"/>
<circle cx="571.8" cy="921.2" r="10.2" fill="#C51B8A" fill-opacity="0.64" stroke="#C51B8A" stroke-opacity="0.75" stroke-width="1.3"/>
<circle cx="598.9" cy="926.9" r="10.2" fill="#C51B8A" fill-opacity="0.64" stroke="#C51B8A" stroke-opacity="0.75" stroke-width="1.3"/>
<circle cx="589.0" cy="955.7" r="10.2" fill="#C51B8A" fill-opacity="0.64" stroke="#C51B8A" stroke-opacity="0.75" stroke-width="1.3"/>
<circle cx="596.1" cy="945.3" r="10.2" fill="#C51B8A" fill-opacity="0.64" stroke="#C51B8A" stroke-opacity="0.75" stroke-width="1.3"/>
<circle cx="689.4" cy="914.8" r="10.2" fill="#C51B8A" fill-opacity="0.64" stroke="#C51B8A" stroke-opacity="0.75" stroke-width="1.3"/>
<circle cx="685.2" cy="916.8" r="10.2" fill="#C51B8A" fill-opacity="0.64" stroke="#C51B8A" stroke-opacity="0.75" stroke-width="1.3"/>
<circle cx="668.1" cy="929.7" r="10.2" fill="#C51B8A" fill-opacity="0.64" stroke="#C51B8A" stroke-opacity="0.75" stroke-width="1.3"/>
<circle cx="679.4" cy="936.8" r="10.2" fill="#C51B8A" fill-opacity="0.64" stroke="#C51B8A" stroke-opacity="0.75" stroke-width="1.3"/>
<circle cx="658.9" cy="949.8" r="10.2" fill="#C51B8A" fill-opacity="0.64" stroke="#C51B8A" stroke-opacity="0.75" stroke-width="1.3"/>
<circle cx="655.7" cy="946.5" r="10.2" fill="#C51B8A" fill-opacity="0.64" stroke="#C51B8A" stroke-opacity="0.75" stroke-width="1.3"/>
<circle cx="734.5" cy="967.9" r="10.2" fill="#C51B8A" fill-opacity="0.64" stroke="#C51B8A" stroke-opacity="0.75" stroke-width="1.3"/>
<circle cx="730.8" cy="1014.5" r="10.2" fill="#C51B8A" fill-opacity="0.64" stroke="#C51B8A" stroke-opacity="0.75" stroke-width="1.3"/>
<circle cx="781.1" cy="1011.1" r="10.2" fill="#C51B8A" fill-opacity="0.64" stroke="#C51B8A" stroke-opacity="0.75" stroke-width="1.3"/>
<circle cx="774.1" cy="1028.6" r="10.2" fill="#C51B8A" fill-opacity="0.64" stroke="#C51B8A" stroke-opacity="0.75" stroke-width="1.3"/>
<circle cx="758.5" cy="1022.9" r="10.2" fill="#C51B8A" fill-opacity="0.64" stroke="#C51B8A" stroke-opacity="0.75" stroke-width="1.3"/>
<path d="M588.8 989.5 L587.7 990.6 L586.6 991.8 L585.4 992.8 L584.2 993.9 L583.0 994.9 L581.7 995.9 L580.4 996.8 L579.1 997.7 L577.7 998.5 L576.3 999.3 L574.8 1000.1 L573.3 1000.8 L571.8 1001.4 L570.3 1002.0 L568.7 1002.6 L567.1 1003.1 L565.4 1003.5 L563.7 1003.9 L562.0 1004.3 L560.3 1004.6 L558.5 1004.8 L556.6 1005.0 L554.7 1005.1 L552.8 1005.1 L550.8 1005.1 L548.8 1005.0 L546.6 1004.8 L544.4 1004.6 L542.1 1004.2 L539.7 1003.7 L537.1 1003.2 L534.4 1002.5 L531.5 1001.6 L528.4 1000.5 L524.9 999.2 L521.2 997.6 L517.0 995.7 L512.4 993.4 L507.2 990.6 L501.4 987.1 L495.0 983.0 L487.9 978.1 L480.3 972.4 L472.3 966.0 L464.3 959.1 L456.6 952.0 L449.3 944.8 L442.8 937.9 L437.1 931.4 L432.3 925.5 L428.2 920.1 L424.8 915.3 L421.9 911.0 L419.5 907.1 L417.6 903.5 L415.9 900.3 L414.5 897.3 L413.3 894.5 L412.2 891.8 L411.4 889.4 L410.6 887.0 L410.0 884.8 L409.5 882.6 L409.1 880.5 L408.8 878.5 L408.5 876.5 L408.3 874.6 L408.2 872.7 L408.2 870.8 L408.2 869.0 L408.3 867.2 L408.4 865.5 L408.6 863.8 L408.9 862.1 L409.2 860.4 L409.6 858.8 L410.0 857.2 L410.5 855.6 L411.0 854.0 L411.6 852.5 L412.2 851.0 L412.9 849.5 L413.6 848.1 L414.4 846.7 L415.2 845.3 L416.0 844.0 L417.0 842.7 L417.9 841.4 L418.9 840.2 L419.9 838.9 L421.0 837.8 L422.1 836.6 L423.3 835.6 L424.5 834.5 L425.7 833.5 L427.0 832.5 L428.3 831.6 L429.7 830.7 L431.0 829.9 L432.5 829.1 L433.9 828.3 L435.4 827.6 L436.9 827.0 L438.5 826.4 L440.0 825.8 L441.7 825.3 L443.3 824.9 L445.0 824.5 L446.7 824.1 L448.5 823.8 L450.3 823.6 L452.1 823.4 L454.0 823.3 L455.9 823.3 L457.9 823.3 L460.0 823.4 L462.1 823.6 L464.3 823.8 L466.6 824.2 L469.0 824.7 L471.6 825.2 L474.3 825.9 L477.2 826.8 L480.4 827.9 L483.8 829.2 L487.6 830.8 L491.7 832.7 L496.4 835.0 L501.5 837.8 L507.3 841.3 L513.8 845.4 L520.8 850.3 L528.5 856.0 L536.4 862.4 L544.4 869.3 L552.2 876.4 L559.4 883.6 L565.9 890.5 L571.6 897.0 L576.5 902.9 L580.5 908.3 L584.0 913.1 L586.8 917.4 L589.2 921.3 L591.2 924.9 L592.9 928.1 L594.3 931.1 L595.5 933.9 L596.5 936.6 L597.4 939.0 L598.1 941.4 L598.7 943.6 L599.2 945.8 L599.7 947.9 L600.0 949.9 L600.2 951.9 L600.4 953.8 L600.5 955.7 L600.6 957.6 L600.5 959.4 L600.5 961.2 L600.3 962.9 L600.1 964.6 L599.9 966.3 L599.5 968.0 L599.2 969.6 L598.8 971.2 L598.3 972.8 L597.7 974.4 L597.2 975.9 L596.5 977.4 L595.9 978.9 L595.1 980.3 L594.4 981.7 L593.6 983.1 L592.7 984.4 L591.8 985.7 L590.8 987.0 L589.8 988.2Z" fill="none" stroke="#BD1A8B" stroke-width="3.3" stroke-linejoin="round"/>
<path d="M611.2 991.6 L609.6 992.2 L608.0 992.8 L606.3 993.3 L604.7 993.8 L603.0 994.2 L601.3 994.5 L599.6 994.8 L597.9 995.1 L596.1 995.2 L594.4 995.3 L592.6 995.4 L590.8 995.4 L589.1 995.3 L587.3 995.2 L585.5 995.0 L583.7 994.7 L581.9 994.4 L580.1 994.0 L578.3 993.5 L576.5 993.0 L574.7 992.4 L572.9 991.7 L571.1 991.0 L569.3 990.2 L567.5 989.3 L565.7 988.3 L564.0 987.3 L562.2 986.2 L560.5 985.0 L558.7 983.7 L557.0 982.4 L555.3 980.9 L553.7 979.4 L552.0 977.8 L550.4 976.1 L548.9 974.4 L547.3 972.5 L545.8 970.6 L544.4 968.6 L543.0 966.5 L541.7 964.3 L540.4 962.1 L539.2 959.8 L538.1 957.5 L537.1 955.1 L536.1 952.7 L535.2 950.3 L534.5 947.9 L533.8 945.4 L533.2 942.9 L532.7 940.5 L532.2 938.0 L531.9 935.6 L531.7 933.2 L531.5 930.9 L531.5 928.5 L531.5 926.2 L531.6 924.0 L531.7 921.8 L532.0 919.6 L532.3 917.5 L532.7 915.4 L533.1 913.4 L533.6 911.4 L534.2 909.5 L534.8 907.6 L535.5 905.7 L536.2 903.9 L537.0 902.2 L537.9 900.5 L538.8 898.8 L539.7 897.2 L540.7 895.7 L541.7 894.2 L542.8 892.7 L543.9 891.3 L545.1 889.9 L546.3 888.6 L547.5 887.3 L548.8 886.1 L550.1 885.0 L551.4 883.8 L552.8 882.8 L554.2 881.8 L555.7 880.8 L557.2 879.9 L558.7 879.0 L560.2 878.2 L561.7 877.5 L563.3 876.8 L564.9 876.2 L566.5 875.6 L568.2 875.1 L569.8 874.6 L571.5 874.2 L573.2 873.8 L574.9 873.6 L576.7 873.3 L578.4 873.1 L580.2 873.0 L581.9 873.0 L583.7 873.0 L585.5 873.1 L587.3 873.2 L589.0 873.4 L590.8 873.7 L592.6 874.0 L594.4 874.4 L596.2 874.9 L598.0 875.4 L599.8 876.0 L601.6 876.6 L603.4 877.4 L605.2 878.2 L607.0 879.1 L608.8 880.0 L610.6 881.1 L612.3 882.2 L614.1 883.4 L615.8 884.6 L617.5 886.0 L619.2 887.4 L620.8 889.0 L622.5 890.6 L624.1 892.2 L625.7 894.0 L627.2 895.9 L628.7 897.8 L630.1 899.8 L631.5 901.9 L632.9 904.0 L634.1 906.3 L635.3 908.5 L636.4 910.9 L637.5 913.2 L638.4 915.6 L639.3 918.1 L640.1 920.5 L640.8 923.0 L641.4 925.4 L641.9 927.9 L642.3 930.3 L642.6 932.8 L642.8 935.1 L643.0 937.5 L643.1 939.8 L643.0 942.1 L642.9 944.4 L642.8 946.6 L642.5 948.8 L642.2 950.9 L641.8 953.0 L641.4 955.0 L640.9 957.0 L640.3 958.9 L639.7 960.8 L639.0 962.6 L638.3 964.4 L637.5 966.2 L636.6 967.9 L635.8 969.5 L634.8 971.1 L633.8 972.7 L632.8 974.2 L631.7 975.7 L630.6 977.1 L629.4 978.5 L628.2 979.8 L627.0 981.0 L625.7 982.3 L624.4 983.4 L623.1 984.5 L621.7 985.6 L620.3 986.6 L618.8 987.6 L617.4 988.5 L615.9 989.3 L614.3 990.1 L612.8 990.9Z" fill="none" stroke="#BD1A8B" stroke-width="3.3" stroke-linejoin="round"/>
<path d="M720.3 887.2 L721.3 888.3 L722.3 889.4 L723.2 890.5 L724.1 891.7 L725.0 892.9 L725.8 894.1 L726.6 895.3 L727.3 896.6 L728.0 897.9 L728.6 899.3 L729.2 900.6 L729.8 902.0 L730.3 903.4 L730.7 904.8 L731.1 906.3 L731.5 907.7 L731.8 909.2 L732.0 910.7 L732.2 912.2 L732.4 913.8 L732.5 915.3 L732.5 916.9 L732.5 918.4 L732.4 920.0 L732.3 921.6 L732.1 923.3 L731.9 924.9 L731.6 926.6 L731.2 928.3 L730.8 930.0 L730.3 931.8 L729.7 933.6 L729.0 935.4 L728.2 937.4 L727.3 939.4 L726.2 941.5 L725.0 943.7 L723.7 946.0 L722.1 948.5 L720.3 951.2 L718.2 954.0 L715.8 957.0 L713.2 960.1 L710.3 963.3 L707.2 966.4 L704.0 969.5 L700.7 972.3 L697.6 974.9 L694.6 977.3 L691.7 979.3 L689.0 981.1 L686.5 982.6 L684.2 984.0 L681.9 985.1 L679.8 986.2 L677.8 987.0 L675.9 987.8 L674.0 988.5 L672.2 989.0 L670.4 989.5 L668.7 990.0 L667.0 990.3 L665.3 990.6 L663.7 990.8 L662.1 991.0 L660.4 991.1 L658.9 991.1 L657.3 991.1 L655.7 991.1 L654.2 990.9 L652.6 990.8 L651.1 990.5 L649.6 990.3 L648.2 989.9 L646.7 989.6 L645.3 989.1 L643.8 988.7 L642.4 988.2 L641.1 987.6 L639.7 987.0 L638.4 986.3 L637.1 985.6 L635.8 984.9 L634.6 984.1 L633.4 983.3 L632.2 982.4 L631.0 981.5 L629.9 980.5 L628.8 979.5 L627.8 978.5 L626.8 977.4 L625.8 976.3 L624.9 975.2 L624.0 974.0 L623.1 972.8 L622.3 971.6 L621.5 970.4 L620.8 969.1 L620.1 967.8 L619.5 966.4 L618.9 965.1 L618.3 963.7 L617.8 962.3 L617.4 960.9 L617.0 959.4 L616.6 958.0 L616.3 956.5 L616.1 955.0 L615.9 953.5 L615.7 951.9 L615.6 950.4 L615.6 948.8 L615.6 947.3 L615.6 945.7 L615.8 944.1 L615.9 942.4 L616.2 940.8 L616.5 939.1 L616.9 937.4 L617.3 935.7 L617.8 933.9 L618.4 932.1 L619.1 930.3 L619.9 928.3 L620.8 926.3 L621.9 924.2 L623.0 922.0 L624.4 919.7 L626.0 917.2 L627.8 914.5 L629.9 911.7 L632.3 908.7 L634.9 905.6 L637.8 902.4 L640.9 899.3 L644.1 896.2 L647.3 893.4 L650.5 890.8 L653.5 888.4 L656.4 886.4 L659.0 884.6 L661.5 883.1 L663.9 881.7 L666.1 880.6 L668.2 879.5 L670.3 878.7 L672.2 877.9 L674.1 877.2 L675.9 876.7 L677.6 876.2 L679.4 875.7 L681.1 875.4 L682.7 875.1 L684.4 874.9 L686.0 874.7 L687.6 874.6 L689.2 874.6 L690.8 874.6 L692.4 874.6 L693.9 874.8 L695.4 874.9 L696.9 875.2 L698.4 875.4 L699.9 875.8 L701.4 876.1 L702.8 876.6 L704.2 877.0 L705.6 877.5 L707.0 878.1 L708.4 878.7 L709.7 879.4 L711.0 880.1 L712.3 880.8 L713.5 881.6 L714.7 882.4 L715.9 883.3 L717.0 884.2 L718.2 885.2 L719.2 886.2Z" fill="none" stroke="#BD1A8B" stroke-width="3.3" stroke-linejoin="round"/>
<path d="M770.8 984.2 L770.2 985.6 L769.5 986.9 L768.8 988.2 L768.1 989.5 L767.3 990.7 L766.5 992.0 L765.6 993.2 L764.7 994.4 L763.8 995.5 L762.8 996.6 L761.7 997.7 L760.6 998.8 L759.5 999.8 L758.4 1000.7 L757.2 1001.7 L755.9 1002.6 L754.7 1003.4 L753.4 1004.3 L752.0 1005.1 L750.6 1005.8 L749.2 1006.5 L747.8 1007.1 L746.3 1007.8 L744.7 1008.3 L743.1 1008.8 L741.5 1009.3 L739.8 1009.7 L738.1 1010.1 L736.3 1010.5 L734.4 1010.7 L732.4 1010.9 L730.3 1011.1 L728.1 1011.2 L725.7 1011.2 L723.1 1011.1 L720.3 1010.9 L717.1 1010.6 L713.5 1010.1 L709.3 1009.4 L704.5 1008.4 L698.9 1007.0 L692.4 1005.1 L685.0 1002.8 L676.9 999.8 L668.4 996.4 L660.0 992.7 L652.2 989.0 L645.3 985.4 L639.5 982.0 L634.6 979.0 L630.5 976.2 L627.1 973.8 L624.2 971.6 L621.7 969.5 L619.6 967.6 L617.7 965.8 L616.1 964.1 L614.6 962.4 L613.2 960.8 L612.0 959.3 L610.9 957.7 L609.8 956.2 L608.9 954.7 L608.0 953.2 L607.2 951.7 L606.5 950.2 L605.8 948.7 L605.2 947.2 L604.6 945.7 L604.1 944.2 L603.7 942.7 L603.3 941.2 L603.0 939.7 L602.7 938.2 L602.5 936.7 L602.3 935.2 L602.2 933.6 L602.2 932.1 L602.2 930.6 L602.2 929.1 L602.3 927.6 L602.5 926.2 L602.7 924.7 L602.9 923.2 L603.2 921.8 L603.6 920.3 L604.0 918.9 L604.4 917.5 L604.9 916.1 L605.5 914.7 L606.1 913.4 L606.7 912.0 L607.4 910.7 L608.2 909.4 L608.9 908.2 L609.8 906.9 L610.6 905.7 L611.5 904.6 L612.5 903.4 L613.5 902.3 L614.5 901.2 L615.6 900.2 L616.7 899.2 L617.9 898.2 L619.1 897.2 L620.3 896.3 L621.6 895.5 L622.9 894.6 L624.2 893.9 L625.6 893.1 L627.0 892.4 L628.5 891.8 L630.0 891.2 L631.5 890.6 L633.1 890.1 L634.8 889.6 L636.4 889.2 L638.2 888.8 L640.0 888.5 L641.9 888.2 L643.9 888.0 L645.9 887.8 L648.2 887.7 L650.6 887.7 L653.2 887.8 L656.0 888.0 L659.2 888.3 L662.8 888.8 L666.9 889.5 L671.7 890.6 L677.3 891.9 L683.8 893.8 L691.2 896.2 L699.4 899.1 L707.9 902.5 L716.3 906.2 L724.0 909.9 L730.9 913.6 L736.8 916.9 L741.7 920.0 L745.8 922.7 L749.2 925.1 L752.1 927.4 L754.5 929.4 L756.6 931.3 L758.5 933.1 L760.2 934.8 L761.7 936.5 L763.0 938.1 L764.3 939.6 L765.4 941.2 L766.4 942.7 L767.4 944.2 L768.2 945.7 L769.1 947.2 L769.8 948.7 L770.5 950.2 L771.1 951.7 L771.6 953.2 L772.1 954.7 L772.6 956.2 L772.9 957.7 L773.3 959.2 L773.5 960.7 L773.8 962.3 L773.9 963.8 L774.0 965.3 L774.1 966.8 L774.1 968.3 L774.0 969.8 L773.9 971.3 L773.8 972.8 L773.6 974.2 L773.3 975.7 L773.0 977.2 L772.7 978.6 L772.3 980.0 L771.8 981.4 L771.3 982.8Z" fill="none" stroke="#BD1A8B" stroke-width="3.3" stroke-linejoin="round"/>
<path d="M832.8 1027.5 L832.5 1029.0 L832.3 1030.4 L831.9 1031.9 L831.5 1033.3 L831.1 1034.7 L830.6 1036.1 L830.1 1037.5 L829.5 1038.9 L828.9 1040.3 L828.2 1041.6 L827.5 1042.9 L826.7 1044.2 L825.9 1045.5 L825.0 1046.7 L824.1 1047.9 L823.1 1049.1 L822.1 1050.3 L821.1 1051.4 L820.0 1052.5 L818.8 1053.6 L817.7 1054.6 L816.4 1055.6 L815.1 1056.6 L813.8 1057.5 L812.4 1058.4 L811.0 1059.3 L809.4 1060.1 L807.9 1060.9 L806.2 1061.7 L804.5 1062.4 L802.7 1063.1 L800.8 1063.8 L798.8 1064.4 L796.6 1065.0 L794.3 1065.5 L791.8 1066.0 L789.1 1066.5 L786.1 1066.8 L782.8 1067.1 L779.1 1067.3 L775.1 1067.4 L770.7 1067.3 L765.9 1067.1 L760.9 1066.7 L755.7 1066.0 L750.6 1065.2 L745.6 1064.3 L741.0 1063.2 L736.7 1062.1 L732.9 1060.9 L729.4 1059.7 L726.3 1058.5 L723.5 1057.3 L721.0 1056.2 L718.7 1055.0 L716.6 1053.9 L714.7 1052.7 L712.9 1051.6 L711.3 1050.4 L709.7 1049.3 L708.3 1048.1 L706.9 1046.9 L705.6 1045.7 L704.4 1044.5 L703.3 1043.3 L702.2 1042.0 L701.1 1040.7 L700.2 1039.4 L699.3 1038.1 L698.4 1036.8 L697.6 1035.5 L696.8 1034.1 L696.1 1032.7 L695.5 1031.4 L694.9 1029.9 L694.3 1028.5 L693.8 1027.1 L693.4 1025.7 L693.0 1024.2 L692.7 1022.7 L692.4 1021.3 L692.1 1019.8 L692.0 1018.3 L691.8 1016.8 L691.7 1015.3 L691.7 1013.9 L691.7 1012.4 L691.8 1010.9 L691.9 1009.4 L692.1 1007.9 L692.3 1006.5 L692.6 1005.0 L693.0 1003.6 L693.3 1002.1 L693.8 1000.7 L694.3 999.3 L694.8 997.9 L695.4 996.6 L696.0 995.2 L696.7 993.9 L697.4 992.6 L698.2 991.3 L699.0 990.0 L699.9 988.8 L700.8 987.5 L701.7 986.3 L702.7 985.2 L703.8 984.1 L704.9 983.0 L706.0 981.9 L707.2 980.8 L708.5 979.8 L709.8 978.9 L711.1 977.9 L712.5 977.0 L713.9 976.1 L715.4 975.3 L717.0 974.5 L718.6 973.7 L720.4 973.0 L722.2 972.3 L724.1 971.7 L726.1 971.0 L728.2 970.5 L730.6 969.9 L733.1 969.4 L735.8 969.0 L738.8 968.6 L742.1 968.3 L745.8 968.1 L749.8 968.1 L754.2 968.1 L759.0 968.4 L764.0 968.8 L769.2 969.4 L774.3 970.2 L779.2 971.2 L783.9 972.3 L788.2 973.4 L792.0 974.6 L795.5 975.8 L798.6 976.9 L801.4 978.1 L803.9 979.3 L806.2 980.4 L808.2 981.6 L810.2 982.7 L811.9 983.9 L813.6 985.0 L815.1 986.2 L816.6 987.4 L817.9 988.6 L819.2 989.8 L820.5 991.0 L821.6 992.2 L822.7 993.5 L823.7 994.7 L824.7 996.0 L825.6 997.3 L826.5 998.6 L827.3 1000.0 L828.1 1001.3 L828.8 1002.7 L829.4 1004.1 L830.0 1005.5 L830.6 1006.9 L831.0 1008.4 L831.5 1009.8 L831.9 1011.3 L832.2 1012.7 L832.5 1014.2 L832.7 1015.7 L832.9 1017.1 L833.1 1018.6 L833.1 1020.1 L833.2 1021.6 L833.1 1023.1 L833.1 1024.6 L832.9 1026.0Z" fill="none" stroke="#BD1A8B" stroke-width="3.3" stroke-linejoin="round"/>
<path d="M491.5 922.9H527.9M509.7 904.7V941.1M496.8 910.0L522.6 935.8M496.8 935.8L522.6 910.0" stroke="#000" stroke-width="2.6" stroke-linecap="round" fill="none"/>
<path d="M570.8 937.6H607.2M589.0 919.4V955.8M576.1 924.7L601.9 950.5M576.1 950.5L601.9 924.7" stroke="#000" stroke-width="2.6" stroke-linecap="round" fill="none"/>
<path d="M659.0 928.9H695.4M677.2 910.7V947.1M664.3 916.0L690.1 941.8M664.3 941.8L690.1 916.0" stroke="#000" stroke-width="2.6" stroke-linecap="round" fill="none"/>
<path d="M661.8 949.8H698.2M680.0 931.6V968.0M667.1 936.9L692.9 962.7M667.1 962.7L692.9 936.9" stroke="#000" stroke-width="2.6" stroke-linecap="round" fill="none"/>
<path d="M743.2 1019.5H779.6M761.4 1001.3V1037.7M748.5 1006.6L774.3 1032.4M748.5 1032.4L774.3 1006.6" stroke="#000" stroke-width="2.6" stroke-linecap="round" fill="none"/>
<circle cx="643.3" cy="951.8" r="13.3" fill="#000"/>
</g>
<rect x="102.3" y="650.7" width="791.1" height="499.1" fill="none" stroke="#222" stroke-width="1.8"/>
<line x1="228.6" x2="228.6" y1="1149.8" y2="1158.4" stroke="#262626" stroke-width="2.8"/>
<text class="tk" text-anchor="middle" x="228.6" y="1182.9">−200</text>
<line x1="431.2" x2="431.2" y1="1149.8" y2="1158.4" stroke="#262626" stroke-width="2.8"/>
<text class="tk" text-anchor="middle" x="431.2" y="1182.9">−100</text>
<line x1="633.8" x2="633.8" y1="1149.8" y2="1158.4" stroke="#262626" stroke-width="2.8"/>
<text class="tk" text-anchor="middle" x="633.8" y="1182.9">0</text>
<line x1="836.4" x2="836.4" y1="1149.8" y2="1158.4" stroke="#262626" stroke-width="2.8"/>
<text class="tk" text-anchor="middle" x="836.4" y="1182.9">100</text>
<line x1="93.5" x2="102.3" y1="786.2" y2="786.2" stroke="#262626" stroke-width="2.8"/>
<text class="tk" text-anchor="end" x="87.5" y="795.6">50</text>
<line x1="93.5" x2="102.3" y1="931.0" y2="931.0" stroke="#262626" stroke-width="2.8"/>
<text class="tk" text-anchor="end" x="87.5" y="940.4">0</text>
<line x1="93.5" x2="102.3" y1="1075.8" y2="1075.8" stroke="#262626" stroke-width="2.8"/>
<text class="tk" text-anchor="end" x="87.5" y="1085.2">−50</text>
</g>
<g>
<clipPath id="cpWT"><rect x="976.6" y="650.7" width="791.1" height="499.1"/></clipPath>
<line x1="1001.4" x2="1001.4" y1="652.9" y2="1147.6" stroke="#eeeeee" stroke-width="1.5"/>
<line x1="1204.0" x2="1204.0" y1="652.9" y2="1147.6" stroke="#eeeeee" stroke-width="1.5"/>
<line x1="1406.6" x2="1406.6" y1="652.9" y2="1147.6" stroke="#eeeeee" stroke-width="1.5"/>
<line x1="1609.2" x2="1609.2" y1="652.9" y2="1147.6" stroke="#eeeeee" stroke-width="1.5"/>
<line x1="978.8" x2="1765.5" y1="713.8" y2="713.8" stroke="#eeeeee" stroke-width="1.5"/>
<line x1="978.8" x2="1765.5" y1="858.6" y2="858.6" stroke="#eeeeee" stroke-width="1.5"/>
<line x1="978.8" x2="1765.5" y1="1003.4" y2="1003.4" stroke="#eeeeee" stroke-width="1.5"/>
<line x1="1102.7" x2="1102.7" y1="652.9" y2="1147.6" stroke="#eaeaea" stroke-width="2.6"/>
<line x1="1305.3" x2="1305.3" y1="652.9" y2="1147.6" stroke="#eaeaea" stroke-width="2.6"/>
<line x1="1507.9" x2="1507.9" y1="652.9" y2="1147.6" stroke="#eaeaea" stroke-width="2.6"/>
<line x1="1710.5" x2="1710.5" y1="652.9" y2="1147.6" stroke="#eaeaea" stroke-width="2.6"/>
<line x1="978.8" x2="1765.5" y1="786.2" y2="786.2" stroke="#eaeaea" stroke-width="2.6"/>
<line x1="978.8" x2="1765.5" y1="931.0" y2="931.0" stroke="#eaeaea" stroke-width="2.6"/>
<line x1="978.8" x2="1765.5" y1="1075.8" y2="1075.8" stroke="#eaeaea" stroke-width="2.6"/>
<g clip-path="url(#cpWT)">
<circle cx="1143.4" cy="917.0" r="6.9" fill="#000" fill-opacity="0.18" stroke="#000" stroke-opacity="0.38" stroke-width="1.35"/>
<circle cx="1199.7" cy="1014.4" r="6.9" fill="#000" fill-opacity="0.18" stroke="#000" stroke-opacity="0.38" stroke-width="1.35"/>
<circle cx="1284.4" cy="1056.2" r="6.9" fill="#000" fill-opacity="0.18" stroke="#000" stroke-opacity="0.38" stroke-width="1.35"/>
<circle cx="1355.6" cy="1027.3" r="6.9" fill="#000" fill-opacity="0.18" stroke="#000" stroke-opacity="0.38" stroke-width="1.35"/>
<circle cx="1422.1" cy="981.9" r="6.9" fill="#000" fill-opacity="0.18" stroke="#000" stroke-opacity="0.38" stroke-width="1.35"/>
<circle cx="1393.9" cy="1064.4" r="6.9" fill="#000" fill-opacity="0.18" stroke="#000" stroke-opacity="0.38" stroke-width="1.35"/>
<circle cx="1485.5" cy="1037.8" r="6.9" fill="#000" fill-opacity="0.18" stroke="#000" stroke-opacity="0.38" stroke-width="1.35"/>
<circle cx="1535.2" cy="1055.3" r="6.9" fill="#000" fill-opacity="0.18" stroke="#000" stroke-opacity="0.38" stroke-width="1.35"/>
<circle cx="1544.8" cy="1066.6" r="6.9" fill="#000" fill-opacity="0.18" stroke="#000" stroke-opacity="0.38" stroke-width="1.35"/>
<circle cx="1482.3" cy="1082.4" r="6.9" fill="#000" fill-opacity="0.18" stroke="#000" stroke-opacity="0.38" stroke-width="1.35"/>
<circle cx="1514.7" cy="1083.1" r="6.9" fill="#000" fill-opacity="0.18" stroke="#000" stroke-opacity="0.38" stroke-width="1.35"/>
<circle cx="1433.6" cy="1093.6" r="6.9" fill="#000" fill-opacity="0.18" stroke="#000" stroke-opacity="0.38" stroke-width="1.35"/>
<circle cx="1458.9" cy="1094.6" r="6.9" fill="#000" fill-opacity="0.18" stroke="#000" stroke-opacity="0.38" stroke-width="1.35"/>
<circle cx="1454.6" cy="1099.1" r="6.9" fill="#000" fill-opacity="0.18" stroke="#000" stroke-opacity="0.38" stroke-width="1.35"/>
<circle cx="1411.5" cy="1118.9" r="6.9" fill="#000" fill-opacity="0.18" stroke="#000" stroke-opacity="0.38" stroke-width="1.35"/>
<circle cx="1433.4" cy="1125.1" r="6.9" fill="#000" fill-opacity="0.18" stroke="#000" stroke-opacity="0.38" stroke-width="1.35"/>
<circle cx="1516.0" cy="1116.6" r="6.9" fill="#000" fill-opacity="0.18" stroke="#000" stroke-opacity="0.38" stroke-width="1.35"/>
<circle cx="1497.6" cy="1128.3" r="6.9" fill="#000" fill-opacity="0.18" stroke="#000" stroke-opacity="0.38" stroke-width="1.35"/>
<circle cx="1665.7" cy="1117.9" r="6.9" fill="#000" fill-opacity="0.18" stroke="#000" stroke-opacity="0.38" stroke-width="1.35"/>
<circle cx="1435.1" cy="1110.9" r="6.9" fill="#000" fill-opacity="0.18" stroke="#000" stroke-opacity="0.38" stroke-width="1.35"/>
<circle cx="1011.6" cy="672.7" r="6.9" fill="#000" fill-opacity="0.18" stroke="#000" stroke-opacity="0.38" stroke-width="1.35"/>
<circle cx="1214.5" cy="774.9" r="6.9" fill="#000" fill-opacity="0.18" stroke="#000" stroke-opacity="0.38" stroke-width="1.35"/>
<circle cx="1212.7" cy="802.9" r="6.9" fill="#000" fill-opacity="0.18" stroke="#000" stroke-opacity="0.38" stroke-width="1.35"/>
<circle cx="1225.8" cy="825.5" r="6.9" fill="#000" fill-opacity="0.18" stroke="#000" stroke-opacity="0.38" stroke-width="1.35"/>
<circle cx="1422.4" cy="771.3" r="6.9" fill="#000" fill-opacity="0.18" stroke="#000" stroke-opacity="0.38" stroke-width="1.35"/>
<circle cx="1529.1" cy="763.1" r="6.9" fill="#000" fill-opacity="0.18" stroke="#000" stroke-opacity="0.38" stroke-width="1.35"/>
<circle cx="1554.0" cy="765.4" r="6.9" fill="#000" fill-opacity="0.18" stroke="#000" stroke-opacity="0.38" stroke-width="1.35"/>
<circle cx="1554.4" cy="773.1" r="6.9" fill="#000" fill-opacity="0.18" stroke="#000" stroke-opacity="0.38" stroke-width="1.35"/>
<circle cx="1411.1" cy="842.7" r="6.9" fill="#000" fill-opacity="0.18" stroke="#000" stroke-opacity="0.38" stroke-width="1.35"/>
<circle cx="1449.1" cy="841.3" r="6.9" fill="#000" fill-opacity="0.18" stroke="#000" stroke-opacity="0.38" stroke-width="1.35"/>
<circle cx="1502.4" cy="844.0" r="6.9" fill="#000" fill-opacity="0.18" stroke="#000" stroke-opacity="0.38" stroke-width="1.35"/>
<circle cx="1422.9" cy="908.7" r="6.9" fill="#000" fill-opacity="0.18" stroke="#000" stroke-opacity="0.38" stroke-width="1.35"/>
<circle cx="1514.2" cy="914.1" r="6.9" fill="#000" fill-opacity="0.18" stroke="#000" stroke-opacity="0.38" stroke-width="1.35"/>
<circle cx="1624.5" cy="907.8" r="6.9" fill="#000" fill-opacity="0.18" stroke="#000" stroke-opacity="0.38" stroke-width="1.35"/>
<circle cx="1599.6" cy="923.6" r="6.9" fill="#000" fill-opacity="0.18" stroke="#000" stroke-opacity="0.38" stroke-width="1.35"/>
<circle cx="1638.8" cy="924.6" r="6.9" fill="#000" fill-opacity="0.18" stroke="#000" stroke-opacity="0.38" stroke-width="1.35"/>
<circle cx="1641.6" cy="925.1" r="6.9" fill="#000" fill-opacity="0.18" stroke="#000" stroke-opacity="0.38" stroke-width="1.35"/>
<circle cx="1562.1" cy="958.4" r="6.9" fill="#000" fill-opacity="0.18" stroke="#000" stroke-opacity="0.38" stroke-width="1.35"/>
<circle cx="1582.9" cy="982.8" r="6.9" fill="#000" fill-opacity="0.18" stroke="#000" stroke-opacity="0.38" stroke-width="1.35"/>
<circle cx="1326.7" cy="891.0" r="6.9" fill="#000" fill-opacity="0.18" stroke="#000" stroke-opacity="0.38" stroke-width="1.35"/>
<circle cx="1373.0" cy="881.1" r="6.9" fill="#000" fill-opacity="0.18" stroke="#000" stroke-opacity="0.38" stroke-width="1.35"/>
<circle cx="1401.0" cy="959.1" r="6.9" fill="#000" fill-opacity="0.18" stroke="#000" stroke-opacity="0.38" stroke-width="1.35"/>
<circle cx="1434.6" cy="959.1" r="6.9" fill="#000" fill-opacity="0.18" stroke="#000" stroke-opacity="0.38" stroke-width="1.35"/>
<circle cx="1445.9" cy="921.2" r="6.9" fill="#000" fill-opacity="0.18" stroke="#000" stroke-opacity="0.38" stroke-width="1.35"/>
<circle cx="1473.0" cy="926.9" r="6.9" fill="#000" fill-opacity="0.18" stroke="#000" stroke-opacity="0.38" stroke-width="1.35"/>
<circle cx="1463.1" cy="955.7" r="6.9" fill="#000" fill-opacity="0.18" stroke="#000" stroke-opacity="0.38" stroke-width="1.35"/>
<circle cx="1470.2" cy="945.3" r="6.9" fill="#000" fill-opacity="0.18" stroke="#000" stroke-opacity="0.38" stroke-width="1.35"/>
<circle cx="1563.5" cy="914.8" r="6.9" fill="#000" fill-opacity="0.18" stroke="#000" stroke-opacity="0.38" stroke-width="1.35"/>
<circle cx="1559.3" cy="916.8" r="6.9" fill="#000" fill-opacity="0.18" stroke="#000" stroke-opacity="0.38" stroke-width="1.35"/>
<circle cx="1542.2" cy="929.7" r="6.9" fill="#000" fill-opacity="0.18" stroke="#000" stroke-opacity="0.38" stroke-width="1.35"/>
<circle cx="1553.5" cy="936.8" r="6.9" fill="#000" fill-opacity="0.18" stroke="#000" stroke-opacity="0.38" stroke-width="1.35"/>
<circle cx="1533.0" cy="949.8" r="6.9" fill="#000" fill-opacity="0.18" stroke="#000" stroke-opacity="0.38" stroke-width="1.35"/>
<circle cx="1529.8" cy="946.5" r="6.9" fill="#000" fill-opacity="0.18" stroke="#000" stroke-opacity="0.38" stroke-width="1.35"/>
<circle cx="1608.6" cy="967.9" r="6.9" fill="#000" fill-opacity="0.18" stroke="#000" stroke-opacity="0.38" stroke-width="1.35"/>
<circle cx="1604.9" cy="1014.5" r="6.9" fill="#000" fill-opacity="0.18" stroke="#000" stroke-opacity="0.38" stroke-width="1.35"/>
<circle cx="1655.2" cy="1011.1" r="6.9" fill="#000" fill-opacity="0.18" stroke="#000" stroke-opacity="0.38" stroke-width="1.35"/>
<circle cx="1648.2" cy="1028.6" r="6.9" fill="#000" fill-opacity="0.18" stroke="#000" stroke-opacity="0.38" stroke-width="1.35"/>
<circle cx="1632.6" cy="1022.9" r="6.9" fill="#000" fill-opacity="0.18" stroke="#000" stroke-opacity="0.38" stroke-width="1.35"/>
<circle cx="1592.7" cy="790.8" r="6.9" fill="#000" fill-opacity="0.18" stroke="#000" stroke-opacity="0.20" stroke-width="1.35"/>
<circle cx="1610.1" cy="806.5" r="6.9" fill="#000" fill-opacity="0.18" stroke="#000" stroke-opacity="0.20" stroke-width="1.35"/>
<circle cx="1576.2" cy="815.7" r="6.9" fill="#000" fill-opacity="0.18" stroke="#000" stroke-opacity="0.20" stroke-width="1.35"/>
<circle cx="1629.9" cy="814.8" r="6.9" fill="#000" fill-opacity="0.18" stroke="#000" stroke-opacity="0.20" stroke-width="1.35"/>
<circle cx="1596.1" cy="830.3" r="6.9" fill="#000" fill-opacity="0.18" stroke="#000" stroke-opacity="0.20" stroke-width="1.35"/>
<circle cx="1641.4" cy="826.7" r="6.9" fill="#000" fill-opacity="0.18" stroke="#000" stroke-opacity="0.20" stroke-width="1.35"/>
<circle cx="1583.5" cy="842.4" r="6.9" fill="#000" fill-opacity="0.18" stroke="#000" stroke-opacity="0.20" stroke-width="1.35"/>
<circle cx="1651.9" cy="839.9" r="6.9" fill="#000" fill-opacity="0.18" stroke="#000" stroke-opacity="0.20" stroke-width="1.35"/>
<circle cx="1634.1" cy="842.4" r="6.9" fill="#000" fill-opacity="0.18" stroke="#000" stroke-opacity="0.20" stroke-width="1.35"/>
<circle cx="1605.9" cy="849.7" r="6.9" fill="#000" fill-opacity="0.18" stroke="#000" stroke-opacity="0.20" stroke-width="1.35"/>
<circle cx="1605.7" cy="856.4" r="6.9" fill="#000" fill-opacity="0.18" stroke="#000" stroke-opacity="0.20" stroke-width="1.35"/>
<circle cx="1600.7" cy="860.2" r="6.9" fill="#000" fill-opacity="0.18" stroke="#000" stroke-opacity="0.20" stroke-width="1.35"/>
<circle cx="1670.7" cy="858.1" r="6.9" fill="#000" fill-opacity="0.18" stroke="#000" stroke-opacity="0.20" stroke-width="1.35"/>
<circle cx="1623.7" cy="868.6" r="6.9" fill="#000" fill-opacity="0.18" stroke="#000" stroke-opacity="0.20" stroke-width="1.35"/>
<circle cx="1667.6" cy="871.7" r="6.9" fill="#000" fill-opacity="0.18" stroke="#000" stroke-opacity="0.20" stroke-width="1.35"/>
<circle cx="1683.2" cy="876.9" r="6.9" fill="#000" fill-opacity="0.18" stroke="#000" stroke-opacity="0.20" stroke-width="1.35"/>
<circle cx="1731.7" cy="863.7" r="6.9" fill="#000" fill-opacity="0.18" stroke="#000" stroke-opacity="0.20" stroke-width="1.35"/>
<circle cx="1573.5" cy="884.2" r="6.9" fill="#000" fill-opacity="0.18" stroke="#000" stroke-opacity="0.20" stroke-width="1.35"/>
<circle cx="1651.9" cy="887.4" r="6.9" fill="#000" fill-opacity="0.18" stroke="#000" stroke-opacity="0.20" stroke-width="1.35"/>
<circle cx="1499.9" cy="918.7" r="6.9" fill="#000" fill-opacity="0.18" stroke="#000" stroke-opacity="0.20" stroke-width="1.35"/>
<circle cx="1592.7" cy="790.8" r="10.2" fill="#31A354" fill-opacity="0.64" stroke="#31A354" stroke-opacity="0.75" stroke-width="1.3"/>
<circle cx="1610.1" cy="806.5" r="10.2" fill="#31A354" fill-opacity="0.64" stroke="#31A354" stroke-opacity="0.75" stroke-width="1.3"/>
<circle cx="1576.2" cy="815.7" r="10.2" fill="#31A354" fill-opacity="0.64" stroke="#31A354" stroke-opacity="0.75" stroke-width="1.3"/>
<circle cx="1629.9" cy="814.8" r="10.2" fill="#31A354" fill-opacity="0.64" stroke="#31A354" stroke-opacity="0.75" stroke-width="1.3"/>
<circle cx="1596.1" cy="830.3" r="10.2" fill="#31A354" fill-opacity="0.64" stroke="#31A354" stroke-opacity="0.75" stroke-width="1.3"/>
<circle cx="1641.4" cy="826.7" r="10.2" fill="#31A354" fill-opacity="0.64" stroke="#31A354" stroke-opacity="0.75" stroke-width="1.3"/>
<circle cx="1583.5" cy="842.4" r="10.2" fill="#31A354" fill-opacity="0.64" stroke="#31A354" stroke-opacity="0.75" stroke-width="1.3"/>
<circle cx="1651.9" cy="839.9" r="10.2" fill="#31A354" fill-opacity="0.64" stroke="#31A354" stroke-opacity="0.75" stroke-width="1.3"/>
<circle cx="1634.1" cy="842.4" r="10.2" fill="#31A354" fill-opacity="0.64" stroke="#31A354" stroke-opacity="0.75" stroke-width="1.3"/>
<circle cx="1605.9" cy="849.7" r="10.2" fill="#31A354" fill-opacity="0.64" stroke="#31A354" stroke-opacity="0.75" stroke-width="1.3"/>
<circle cx="1605.7" cy="856.4" r="10.2" fill="#31A354" fill-opacity="0.64" stroke="#31A354" stroke-opacity="0.75" stroke-width="1.3"/>
<circle cx="1600.7" cy="860.2" r="10.2" fill="#31A354" fill-opacity="0.64" stroke="#31A354" stroke-opacity="0.75" stroke-width="1.3"/>
<circle cx="1670.7" cy="858.1" r="10.2" fill="#31A354" fill-opacity="0.64" stroke="#31A354" stroke-opacity="0.75" stroke-width="1.3"/>
<circle cx="1623.7" cy="868.6" r="10.2" fill="#31A354" fill-opacity="0.64" stroke="#31A354" stroke-opacity="0.75" stroke-width="1.3"/>
<circle cx="1667.6" cy="871.7" r="10.2" fill="#31A354" fill-opacity="0.64" stroke="#31A354" stroke-opacity="0.75" stroke-width="1.3"/>
<circle cx="1683.2" cy="876.9" r="10.2" fill="#31A354" fill-opacity="0.64" stroke="#31A354" stroke-opacity="0.75" stroke-width="1.3"/>
<circle cx="1731.7" cy="863.7" r="10.2" fill="#31A354" fill-opacity="0.64" stroke="#31A354" stroke-opacity="0.75" stroke-width="1.3"/>
<circle cx="1573.5" cy="884.2" r="10.2" fill="#31A354" fill-opacity="0.64" stroke="#31A354" stroke-opacity="0.75" stroke-width="1.3"/>
<circle cx="1651.9" cy="887.4" r="10.2" fill="#31A354" fill-opacity="0.64" stroke="#31A354" stroke-opacity="0.75" stroke-width="1.3"/>
<circle cx="1499.9" cy="918.7" r="10.2" fill="#31A354" fill-opacity="0.64" stroke="#31A354" stroke-opacity="0.75" stroke-width="1.3"/>
<path d="M1684.8 809.0 L1685.7 811.7 L1686.4 814.4 L1687.0 817.2 L1687.4 820.0 L1687.5 822.8 L1687.5 825.7 L1687.2 828.5 L1686.8 831.3 L1686.1 834.1 L1685.2 836.8 L1684.2 839.4 L1682.9 841.9 L1681.5 844.4 L1679.9 846.7 L1678.1 848.9 L1676.2 851.0 L1674.1 852.9 L1672.0 854.8 L1669.7 856.4 L1667.3 858.0 L1664.9 859.3 L1662.4 860.6 L1659.9 861.7 L1657.3 862.7 L1654.8 863.5 L1652.2 864.3 L1649.6 864.9 L1647.0 865.4 L1644.5 865.8 L1642.0 866.1 L1639.5 866.4 L1637.1 866.5 L1634.7 866.7 L1632.3 866.7 L1630.0 866.8 L1627.8 866.7 L1625.5 866.7 L1623.4 866.6 L1621.2 866.5 L1619.1 866.4 L1617.1 866.3 L1615.0 866.2 L1613.0 866.1 L1611.0 865.9 L1609.0 865.8 L1607.0 865.6 L1605.1 865.5 L1603.1 865.3 L1601.1 865.1 L1599.1 864.9 L1597.2 864.7 L1595.2 864.4 L1593.2 864.1 L1591.2 863.8 L1589.2 863.4 L1587.2 863.0 L1585.1 862.6 L1583.1 862.1 L1581.1 861.5 L1579.0 860.9 L1576.9 860.3 L1574.9 859.6 L1572.8 858.8 L1570.8 858.0 L1568.7 857.0 L1566.6 856.1 L1564.6 855.0 L1562.5 853.9 L1560.5 852.7 L1558.5 851.4 L1556.5 850.0 L1554.6 848.5 L1552.7 847.0 L1550.8 845.4 L1549.0 843.6 L1547.2 841.8 L1545.5 840.0 L1543.9 838.0 L1542.3 835.9 L1540.8 833.8 L1539.4 831.6 L1538.1 829.3 L1536.9 827.0 L1535.8 824.6 L1534.8 822.1 L1534.0 819.5 L1533.3 817.0 L1532.7 814.3 L1532.2 811.7 L1531.9 809.0 L1531.8 806.3 L1531.8 803.6 L1531.9 800.9 L1532.2 798.2 L1532.6 795.5 L1533.2 792.9 L1534.0 790.3 L1534.8 787.7 L1535.8 785.2 L1537.0 782.8 L1538.2 780.4 L1539.6 778.1 L1541.1 775.9 L1542.7 773.8 L1544.4 771.7 L1546.2 769.8 L1548.1 767.9 L1550.0 766.2 L1552.0 764.5 L1554.1 762.9 L1556.2 761.5 L1558.4 760.1 L1560.6 758.8 L1562.8 757.7 L1565.0 756.6 L1567.3 755.6 L1569.5 754.7 L1571.8 753.9 L1574.1 753.1 L1576.4 752.5 L1578.6 751.9 L1580.9 751.4 L1583.2 751.0 L1585.4 750.7 L1587.7 750.5 L1589.9 750.3 L1592.1 750.2 L1594.3 750.2 L1596.5 750.2 L1598.7 750.3 L1600.8 750.5 L1602.9 750.8 L1605.0 751.2 L1607.0 751.6 L1609.0 752.0 L1611.0 752.6 L1612.9 753.2 L1614.8 753.9 L1616.6 754.6 L1618.5 755.3 L1620.2 756.1 L1622.0 757.0 L1623.7 757.9 L1625.3 758.8 L1626.9 759.7 L1628.5 760.7 L1630.1 761.7 L1631.6 762.6 L1633.1 763.6 L1634.6 764.6 L1636.1 765.6 L1637.6 766.6 L1639.1 767.6 L1640.6 768.6 L1642.1 769.5 L1643.7 770.5 L1645.2 771.5 L1646.8 772.5 L1648.5 773.5 L1650.1 774.5 L1651.9 775.5 L1653.6 776.6 L1655.4 777.7 L1657.3 778.8 L1659.1 780.1 L1661.0 781.3 L1663.0 782.7 L1664.9 784.1 L1666.9 785.6 L1668.8 787.2 L1670.7 788.9 L1672.6 790.8 L1674.5 792.7 L1676.2 794.7 L1677.9 796.8 L1679.6 799.1 L1681.1 801.4 L1682.4 803.9 L1683.7 806.4Z" fill="none" stroke="#22A048" stroke-width="3.3" stroke-linejoin="round"/>
<path d="M1693.1 827.0 L1693.7 829.7 L1694.2 832.4 L1694.5 835.1 L1694.8 837.9 L1694.9 840.7 L1694.8 843.5 L1694.6 846.3 L1694.2 849.1 L1693.7 851.9 L1693.0 854.6 L1692.1 857.3 L1691.1 860.0 L1689.9 862.5 L1688.5 865.0 L1687.0 867.4 L1685.4 869.7 L1683.6 871.9 L1681.7 874.0 L1679.7 876.0 L1677.6 877.8 L1675.3 879.5 L1673.0 881.1 L1670.7 882.6 L1668.2 883.9 L1665.7 885.1 L1663.2 886.1 L1660.6 887.0 L1658.0 887.9 L1655.5 888.5 L1652.9 889.1 L1650.3 889.6 L1647.7 890.0 L1645.1 890.2 L1642.6 890.4 L1640.1 890.5 L1637.6 890.5 L1635.2 890.4 L1632.8 890.3 L1630.4 890.1 L1628.1 889.8 L1625.8 889.4 L1623.5 889.0 L1621.3 888.6 L1619.1 888.0 L1617.0 887.4 L1614.9 886.8 L1612.9 886.0 L1610.9 885.2 L1608.9 884.4 L1607.0 883.5 L1605.2 882.6 L1603.4 881.5 L1601.7 880.5 L1600.0 879.4 L1598.3 878.2 L1596.8 877.1 L1595.3 875.8 L1593.8 874.6 L1592.4 873.3 L1591.0 872.0 L1589.7 870.8 L1588.4 869.5 L1587.1 868.2 L1585.9 866.9 L1584.6 865.6 L1583.4 864.3 L1582.2 863.1 L1581.0 861.8 L1579.7 860.6 L1578.4 859.4 L1577.1 858.2 L1575.7 857.0 L1574.3 855.8 L1572.8 854.6 L1571.3 853.4 L1569.7 852.1 L1568.0 850.9 L1566.3 849.6 L1564.5 848.2 L1562.7 846.8 L1560.8 845.3 L1558.9 843.7 L1556.9 842.0 L1554.9 840.2 L1553.0 838.3 L1551.0 836.3 L1549.1 834.1 L1547.3 831.9 L1545.5 829.5 L1543.8 827.0 L1542.3 824.4 L1540.9 821.7 L1539.6 818.9 L1538.5 816.0 L1537.7 813.0 L1537.0 810.0 L1536.6 806.9 L1536.4 803.9 L1536.4 800.8 L1536.7 797.8 L1537.2 794.8 L1538.0 791.8 L1539.1 789.0 L1540.3 786.2 L1541.8 783.6 L1543.6 781.1 L1545.5 778.8 L1547.6 776.6 L1549.9 774.6 L1552.3 772.8 L1554.9 771.1 L1557.6 769.6 L1560.4 768.4 L1563.2 767.3 L1566.1 766.4 L1569.1 765.6 L1572.0 765.1 L1574.9 764.6 L1577.9 764.4 L1580.7 764.2 L1583.6 764.1 L1586.4 764.2 L1589.1 764.3 L1591.8 764.5 L1594.4 764.8 L1596.9 765.1 L1599.3 765.4 L1601.7 765.7 L1604.1 766.1 L1606.3 766.4 L1608.5 766.8 L1610.7 767.1 L1612.8 767.4 L1614.9 767.7 L1617.0 768.0 L1619.1 768.3 L1621.1 768.5 L1623.1 768.8 L1625.1 769.1 L1627.2 769.3 L1629.2 769.6 L1631.2 769.9 L1633.3 770.3 L1635.3 770.7 L1637.4 771.1 L1639.4 771.6 L1641.4 772.1 L1643.5 772.7 L1645.5 773.3 L1647.6 774.1 L1649.6 774.9 L1651.6 775.8 L1653.5 776.7 L1655.5 777.7 L1657.4 778.8 L1659.3 780.0 L1661.2 781.3 L1663.0 782.6 L1664.8 784.0 L1666.6 785.4 L1668.3 786.9 L1670.0 788.5 L1671.6 790.2 L1673.2 791.9 L1674.8 793.6 L1676.4 795.4 L1677.9 797.3 L1679.4 799.2 L1680.8 801.2 L1682.2 803.3 L1683.6 805.4 L1684.9 807.5 L1686.2 809.8 L1687.4 812.0 L1688.5 814.4 L1689.6 816.8 L1690.6 819.3 L1691.5 821.8 L1692.3 824.4Z" fill="none" stroke="#22A048" stroke-width="3.3" stroke-linejoin="round"/>
<path d="M1503.7 855.2 L1503.9 853.6 L1504.2 851.9 L1504.5 850.2 L1504.9 848.6 L1505.4 846.9 L1505.9 845.3 L1506.5 843.7 L1507.1 842.1 L1507.8 840.5 L1508.6 838.9 L1509.4 837.3 L1510.2 835.8 L1511.2 834.3 L1512.2 832.8 L1513.2 831.3 L1514.4 829.8 L1515.5 828.4 L1516.8 827.0 L1518.1 825.6 L1519.5 824.2 L1521.0 822.8 L1522.6 821.5 L1524.2 820.2 L1526.0 818.9 L1527.8 817.6 L1529.8 816.4 L1531.9 815.1 L1534.1 813.9 L1536.5 812.7 L1539.1 811.6 L1541.9 810.4 L1544.9 809.3 L1548.1 808.2 L1551.7 807.2 L1555.6 806.2 L1559.9 805.2 L1564.7 804.3 L1569.9 803.6 L1575.7 802.9 L1582.0 802.4 L1588.9 802.1 L1596.4 802.1 L1604.2 802.3 L1612.4 802.8 L1620.8 803.6 L1629.1 804.7 L1637.2 806.1 L1644.9 807.6 L1652.1 809.4 L1658.8 811.2 L1664.8 813.1 L1670.3 815.1 L1675.3 817.0 L1679.7 819.0 L1683.7 820.9 L1687.2 822.7 L1690.5 824.6 L1693.4 826.4 L1696.1 828.1 L1698.5 829.9 L1700.8 831.6 L1702.8 833.3 L1704.7 835.0 L1706.5 836.6 L1708.1 838.3 L1709.6 840.0 L1711.0 841.6 L1712.3 843.3 L1713.6 844.9 L1714.7 846.6 L1715.8 848.3 L1716.7 849.9 L1717.6 851.6 L1718.5 853.3 L1719.2 854.9 L1719.9 856.6 L1720.6 858.3 L1721.1 860.0 L1721.6 861.7 L1722.1 863.4 L1722.4 865.1 L1722.8 866.8 L1723.0 868.5 L1723.2 870.2 L1723.3 871.9 L1723.4 873.6 L1723.4 875.3 L1723.4 877.0 L1723.3 878.7 L1723.1 880.4 L1722.9 882.1 L1722.6 883.8 L1722.3 885.5 L1721.9 887.1 L1721.4 888.8 L1720.9 890.4 L1720.3 892.0 L1719.7 893.6 L1719.0 895.2 L1718.2 896.8 L1717.4 898.3 L1716.6 899.9 L1715.6 901.4 L1714.6 902.9 L1713.6 904.4 L1712.4 905.8 L1711.3 907.3 L1710.0 908.7 L1708.7 910.1 L1707.3 911.5 L1705.8 912.8 L1704.2 914.2 L1702.6 915.5 L1700.8 916.8 L1698.9 918.1 L1697.0 919.3 L1694.9 920.5 L1692.7 921.7 L1690.3 922.9 L1687.7 924.1 L1684.9 925.2 L1681.9 926.4 L1678.7 927.4 L1675.1 928.5 L1671.2 929.5 L1666.9 930.5 L1662.1 931.3 L1656.9 932.1 L1651.1 932.8 L1644.8 933.3 L1637.9 933.5 L1630.4 933.6 L1622.6 933.4 L1614.4 932.9 L1606.0 932.1 L1597.7 931.0 L1589.6 929.6 L1581.9 928.0 L1574.7 926.3 L1568.0 924.4 L1561.9 922.5 L1556.5 920.6 L1551.5 918.6 L1547.1 916.7 L1543.1 914.8 L1539.6 912.9 L1536.3 911.1 L1533.4 909.3 L1530.7 907.5 L1528.3 905.8 L1526.0 904.1 L1524.0 902.4 L1522.1 900.7 L1520.3 899.0 L1518.7 897.4 L1517.2 895.7 L1515.8 894.0 L1514.5 892.4 L1513.2 890.7 L1512.1 889.1 L1511.0 887.4 L1510.1 885.8 L1509.2 884.1 L1508.3 882.4 L1507.6 880.7 L1506.9 879.0 L1506.2 877.4 L1505.7 875.7 L1505.2 874.0 L1504.7 872.3 L1504.3 870.6 L1504.0 868.9 L1503.8 867.1 L1503.6 865.4 L1503.5 863.7 L1503.4 862.0 L1503.4 860.3 L1503.4 858.6 L1503.5 856.9Z" fill="none" stroke="#22A048" stroke-width="3.3" stroke-linejoin="round"/>
<path d="M1463.8 936.2 L1463.2 934.9 L1462.6 933.5 L1462.0 932.2 L1461.5 930.8 L1461.1 929.4 L1460.7 927.9 L1460.3 926.5 L1460.0 925.0 L1459.7 923.6 L1459.5 922.1 L1459.4 920.6 L1459.3 919.1 L1459.2 917.6 L1459.2 916.1 L1459.3 914.6 L1459.4 913.0 L1459.6 911.5 L1459.8 910.0 L1460.1 908.4 L1460.4 906.9 L1460.8 905.4 L1461.2 903.8 L1461.7 902.3 L1462.3 900.7 L1462.9 899.2 L1463.6 897.6 L1464.4 896.0 L1465.2 894.5 L1466.2 892.8 L1467.2 891.2 L1468.3 889.5 L1469.6 887.7 L1471.1 885.9 L1472.7 884.0 L1474.6 881.9 L1476.8 879.6 L1479.4 877.1 L1482.7 874.2 L1486.8 870.7 L1492.0 866.6 L1499.0 861.6 L1508.2 855.4 L1520.1 848.0 L1535.0 839.4 L1551.9 830.5 L1569.1 822.1 L1584.7 815.2 L1597.8 809.9 L1608.2 806.1 L1616.3 803.5 L1622.8 801.6 L1627.9 800.4 L1632.2 799.5 L1635.8 798.8 L1639.0 798.4 L1641.8 798.1 L1644.3 797.9 L1646.6 797.8 L1648.8 797.8 L1650.8 797.9 L1652.8 798.0 L1654.6 798.2 L1656.4 798.5 L1658.1 798.8 L1659.8 799.2 L1661.4 799.6 L1663.0 800.0 L1664.6 800.5 L1666.1 801.1 L1667.5 801.7 L1669.0 802.3 L1670.4 803.0 L1671.7 803.7 L1673.1 804.5 L1674.4 805.3 L1675.6 806.2 L1676.8 807.1 L1678.0 808.0 L1679.2 809.0 L1680.3 810.0 L1681.4 811.0 L1682.4 812.1 L1683.4 813.2 L1684.4 814.3 L1685.3 815.5 L1686.1 816.7 L1687.0 817.9 L1687.7 819.2 L1688.5 820.5 L1689.2 821.8 L1689.8 823.1 L1690.4 824.4 L1691.0 825.8 L1691.5 827.2 L1691.9 828.6 L1692.3 830.1 L1692.7 831.5 L1693.0 833.0 L1693.3 834.4 L1693.5 835.9 L1693.6 837.4 L1693.7 838.9 L1693.8 840.4 L1693.8 841.9 L1693.7 843.4 L1693.6 845.0 L1693.5 846.5 L1693.2 848.0 L1693.0 849.5 L1692.6 851.1 L1692.3 852.6 L1691.8 854.2 L1691.3 855.7 L1690.7 857.3 L1690.1 858.8 L1689.4 860.4 L1688.6 861.9 L1687.8 863.5 L1686.9 865.2 L1685.8 866.8 L1684.7 868.5 L1683.4 870.2 L1682.0 872.1 L1680.3 874.0 L1678.5 876.1 L1676.2 878.4 L1673.6 880.9 L1670.4 883.8 L1666.3 887.3 L1661.0 891.4 L1654.0 896.4 L1644.8 902.6 L1632.9 910.0 L1618.0 918.5 L1601.1 927.5 L1584.0 935.9 L1568.3 942.8 L1555.2 948.1 L1544.8 951.9 L1536.7 954.5 L1530.2 956.3 L1525.1 957.6 L1520.8 958.5 L1517.2 959.2 L1514.0 959.6 L1511.2 959.9 L1508.7 960.1 L1506.4 960.2 L1504.2 960.2 L1502.2 960.1 L1500.3 959.9 L1498.4 959.7 L1496.6 959.5 L1494.9 959.2 L1493.2 958.8 L1491.6 958.4 L1490.0 958.0 L1488.4 957.5 L1486.9 956.9 L1485.5 956.3 L1484.0 955.7 L1482.6 955.0 L1481.3 954.3 L1479.9 953.5 L1478.7 952.7 L1477.4 951.8 L1476.2 950.9 L1475.0 950.0 L1473.8 949.0 L1472.7 948.0 L1471.6 947.0 L1470.6 945.9 L1469.6 944.8 L1468.7 943.7 L1467.8 942.5 L1466.9 941.3 L1466.1 940.1 L1465.3 938.8 L1464.5 937.5Z" fill="none" stroke="#22A048" stroke-width="3.3" stroke-linejoin="round"/>
<path d="M1597.7 889.1 L1597.3 887.6 L1597.1 886.0 L1596.9 884.5 L1596.7 882.9 L1596.6 881.4 L1596.6 879.8 L1596.6 878.3 L1596.7 876.7 L1596.8 875.1 L1597.0 873.6 L1597.2 872.0 L1597.5 870.4 L1597.8 868.9 L1598.2 867.3 L1598.7 865.8 L1599.2 864.2 L1599.8 862.7 L1600.4 861.1 L1601.1 859.6 L1601.9 858.1 L1602.7 856.6 L1603.6 855.1 L1604.6 853.6 L1605.6 852.1 L1606.7 850.6 L1607.9 849.1 L1609.2 847.6 L1610.5 846.1 L1612.0 844.6 L1613.6 843.1 L1615.4 841.5 L1617.2 840.0 L1619.3 838.4 L1621.6 836.7 L1624.2 835.0 L1627.0 833.3 L1630.2 831.5 L1633.7 829.6 L1637.8 827.7 L1642.4 825.7 L1647.5 823.7 L1653.2 821.7 L1659.4 819.7 L1666.0 817.9 L1672.9 816.2 L1679.8 814.8 L1686.6 813.7 L1693.1 812.8 L1699.1 812.3 L1704.6 811.9 L1709.5 811.8 L1714.0 811.8 L1718.0 812.0 L1721.7 812.3 L1725.0 812.6 L1728.0 813.1 L1730.8 813.6 L1733.3 814.2 L1735.7 814.8 L1737.9 815.4 L1740.0 816.1 L1742.0 816.9 L1743.9 817.7 L1745.7 818.5 L1747.4 819.3 L1749.0 820.2 L1750.6 821.1 L1752.1 822.1 L1753.5 823.1 L1754.9 824.1 L1756.2 825.2 L1757.5 826.3 L1758.8 827.4 L1759.9 828.5 L1761.0 829.7 L1762.1 830.9 L1763.1 832.2 L1764.1 833.4 L1765.0 834.7 L1765.9 836.0 L1766.7 837.4 L1767.5 838.8 L1768.2 840.1 L1768.9 841.6 L1769.5 843.0 L1770.1 844.4 L1770.6 845.9 L1771.1 847.4 L1771.5 848.9 L1771.9 850.4 L1772.2 851.9 L1772.4 853.4 L1772.6 855.0 L1772.8 856.5 L1772.9 858.1 L1772.9 859.6 L1772.9 861.2 L1772.8 862.8 L1772.7 864.3 L1772.5 865.9 L1772.3 867.5 L1772.0 869.0 L1771.7 870.6 L1771.3 872.1 L1770.8 873.7 L1770.3 875.2 L1769.7 876.8 L1769.1 878.3 L1768.4 879.8 L1767.6 881.4 L1766.8 882.9 L1765.9 884.4 L1765.0 885.9 L1763.9 887.4 L1762.8 888.9 L1761.6 890.4 L1760.4 891.9 L1759.0 893.4 L1757.5 894.9 L1755.9 896.4 L1754.2 898.0 L1752.3 899.5 L1750.2 901.1 L1747.9 902.7 L1745.4 904.4 L1742.5 906.2 L1739.4 908.0 L1735.8 909.8 L1731.7 911.8 L1727.2 913.7 L1722.1 915.8 L1716.4 917.8 L1710.2 919.7 L1703.5 921.6 L1696.6 923.2 L1689.7 924.6 L1682.9 925.8 L1676.5 926.6 L1670.5 927.2 L1665.0 927.6 L1660.0 927.7 L1655.5 927.6 L1651.5 927.5 L1647.8 927.2 L1644.5 926.8 L1641.5 926.4 L1638.8 925.9 L1636.2 925.3 L1633.8 924.7 L1631.6 924.0 L1629.5 923.3 L1627.5 922.6 L1625.6 921.8 L1623.8 921.0 L1622.1 920.1 L1620.5 919.3 L1618.9 918.3 L1617.4 917.4 L1616.0 916.4 L1614.6 915.4 L1613.3 914.3 L1612.0 913.2 L1610.8 912.1 L1609.6 910.9 L1608.5 909.8 L1607.4 908.5 L1606.4 907.3 L1605.4 906.0 L1604.5 904.7 L1603.6 903.4 L1602.8 902.1 L1602.0 900.7 L1601.3 899.3 L1600.6 897.9 L1600.0 896.5 L1599.4 895.0 L1598.9 893.6 L1598.4 892.1 L1598.0 890.6Z" fill="none" stroke="#22A048" stroke-width="3.3" stroke-linejoin="round"/>
<path d="M1596.5 816.3H1632.9M1614.7 798.1V834.5M1601.8 803.4L1627.6 829.2M1601.8 829.2L1627.6 803.4" stroke="#000" stroke-width="2.6" stroke-linecap="round" fill="none"/>
<path d="M1600.2 826.1H1636.6M1618.4 807.9V844.3M1605.5 813.2L1631.3 839.0M1605.5 839.0L1631.3 813.2" stroke="#000" stroke-width="2.6" stroke-linecap="round" fill="none"/>
<path d="M1565.3 873.2H1601.7M1583.5 855.0V891.4M1570.6 860.3L1596.4 886.1M1570.6 886.1L1596.4 860.3" stroke="#000" stroke-width="2.6" stroke-linecap="round" fill="none"/>
<path d="M1591.9 866.0H1628.3M1610.1 847.8V884.2M1597.2 853.1L1623.0 878.9M1597.2 878.9L1623.0 853.1" stroke="#000" stroke-width="2.6" stroke-linecap="round" fill="none"/>
<path d="M1662.3 870.6H1698.7M1680.5 852.4V888.8M1667.6 857.7L1693.4 883.5M1667.6 883.5L1693.4 857.7" stroke="#000" stroke-width="2.6" stroke-linecap="round" fill="none"/>
<circle cx="1622.0" cy="850.4" r="13.3" fill="#000"/>
</g>
<rect x="976.6" y="650.7" width="791.1" height="499.1" fill="none" stroke="#222" stroke-width="1.8"/>
<line x1="1102.7" x2="1102.7" y1="1149.8" y2="1158.4" stroke="#262626" stroke-width="2.8"/>
<text class="tk" text-anchor="middle" x="1102.7" y="1182.9">−200</text>
<line x1="1305.3" x2="1305.3" y1="1149.8" y2="1158.4" stroke="#262626" stroke-width="2.8"/>
<text class="tk" text-anchor="middle" x="1305.3" y="1182.9">−100</text>
<line x1="1507.9" x2="1507.9" y1="1149.8" y2="1158.4" stroke="#262626" stroke-width="2.8"/>
<text class="tk" text-anchor="middle" x="1507.9" y="1182.9">0</text>
<line x1="1710.5" x2="1710.5" y1="1149.8" y2="1158.4" stroke="#262626" stroke-width="2.8"/>
<text class="tk" text-anchor="middle" x="1710.5" y="1182.9">100</text>
<line x1="967.8" x2="976.6" y1="786.2" y2="786.2" stroke="#262626" stroke-width="2.8"/>
<text class="tk" text-anchor="end" x="961.8" y="795.6">50</text>
<line x1="967.8" x2="976.6" y1="931.0" y2="931.0" stroke="#262626" stroke-width="2.8"/>
<text class="tk" text-anchor="end" x="961.8" y="940.4">0</text>
<line x1="967.8" x2="976.6" y1="1075.8" y2="1075.8" stroke="#262626" stroke-width="2.8"/>
<text class="tk" text-anchor="end" x="961.8" y="1085.2">−50</text>
</g>
<text class="ax" text-anchor="middle" x="935.05" y="1241.3">PC1 (24.4%)</text>
<text class="ax" text-anchor="middle" transform="translate(34.6 615) rotate(-90)">PC2 (7.24%)</text>
</svg></body></html>
